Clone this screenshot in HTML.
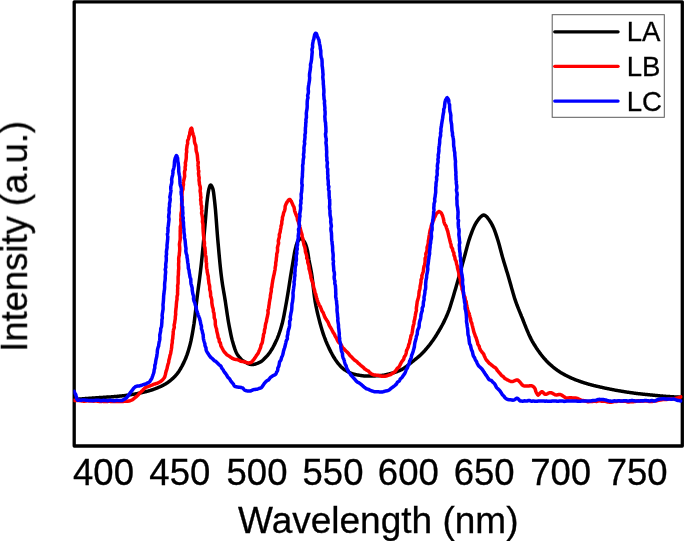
<!DOCTYPE html>
<html>
<head>
<meta charset="utf-8">
<title>Spectrum</title>
<style>
html,body{margin:0;padding:0;background:#fff;}
body{width:685px;height:541px;overflow:hidden;font-family:"Liberation Sans",sans-serif;}
svg{display:block;}
text{font-family:"Liberation Sans",sans-serif;fill:#000;stroke:#000;stroke-width:0.3px;}
.c{fill:none;stroke-width:3.5;stroke-linejoin:round;stroke-linecap:round;}
</style>
</head>
<body>
<svg width="685" height="541" viewBox="0 0 685 541">
<rect x="0" y="0" width="685" height="541" fill="#fff"/>
<defs><filter id="bl" x="-5%" y="-5%" width="110%" height="110%"><feGaussianBlur stdDeviation="0.45"/></filter><clipPath id="cp"><rect x="73.4" y="1.7" width="609.3" height="444.3"/></clipPath></defs>
<rect x="74.2" y="1.85" width="608.1" height="444.15" fill="none" stroke="#000" stroke-width="3.3" stroke-linejoin="round"/>
<g clip-path="url(#cp)">
<path class="c" stroke="#000000" d="M75.0,399.4 L75.5,399.4 L76.0,399.3 L76.5,399.3 L77.0,399.2 L77.5,399.2 L78.0,399.2 L78.5,399.1 L79.0,399.1 L79.5,399.1 L80.0,399.0 L80.5,399.0 L81.0,398.9 L81.5,398.9 L82.0,398.9 L82.5,398.8 L83.0,398.8 L83.5,398.8 L84.0,398.7 L84.5,398.7 L85.0,398.6 L85.5,398.6 L86.0,398.6 L86.5,398.5 L87.0,398.5 L87.5,398.5 L88.0,398.4 L88.5,398.4 L89.0,398.3 L89.5,398.3 L90.0,398.3 L90.5,398.2 L91.0,398.2 L91.5,398.2 L92.0,398.1 L92.5,398.1 L93.0,398.0 L93.5,398.0 L94.0,398.0 L94.5,397.9 L95.0,397.9 L95.5,397.9 L96.0,397.8 L96.5,397.8 L97.0,397.8 L97.5,397.7 L98.0,397.7 L98.5,397.7 L99.0,397.6 L99.5,397.6 L100.0,397.6 L100.5,397.5 L101.0,397.5 L101.5,397.5 L102.0,397.4 L102.5,397.4 L103.0,397.4 L103.5,397.3 L104.0,397.3 L104.5,397.3 L105.0,397.2 L105.5,397.2 L106.0,397.2 L106.5,397.1 L107.0,397.1 L107.5,397.1 L108.0,397.1 L108.5,397.0 L109.0,397.0 L109.5,397.0 L110.0,396.9 L110.5,396.9 L111.0,396.9 L111.5,396.8 L112.0,396.8 L112.5,396.7 L113.0,396.7 L113.5,396.7 L114.0,396.6 L114.5,396.6 L115.0,396.6 L115.5,396.5 L116.0,396.5 L116.5,396.4 L117.0,396.4 L117.5,396.3 L118.0,396.3 L118.5,396.2 L119.0,396.2 L119.5,396.1 L120.0,396.1 L120.5,396.0 L121.0,396.0 L121.5,395.9 L122.0,395.9 L122.5,395.8 L123.0,395.8 L123.5,395.7 L124.0,395.7 L124.5,395.6 L125.0,395.5 L125.5,395.5 L126.0,395.4 L126.5,395.3 L127.0,395.3 L127.5,395.2 L128.0,395.1 L128.5,395.0 L129.0,395.0 L129.5,394.9 L130.0,394.8 L130.5,394.7 L131.0,394.7 L131.5,394.6 L132.0,394.5 L132.5,394.4 L133.0,394.3 L133.5,394.2 L134.0,394.2 L134.5,394.1 L135.0,394.0 L135.5,393.9 L136.0,393.8 L136.5,393.7 L137.0,393.6 L137.5,393.5 L138.0,393.4 L138.5,393.3 L139.0,393.2 L139.5,393.1 L140.0,393.0 L140.5,392.9 L141.0,392.8 L141.5,392.7 L142.0,392.6 L142.5,392.5 L143.0,392.3 L143.5,392.2 L144.0,392.1 L144.5,392.0 L145.0,391.9 L145.5,391.8 L146.0,391.6 L146.5,391.5 L147.0,391.4 L147.5,391.2 L148.0,391.1 L148.5,391.0 L149.0,390.8 L149.5,390.7 L150.0,390.5 L150.5,390.4 L151.0,390.2 L151.5,390.1 L152.0,389.9 L152.5,389.7 L153.0,389.6 L153.5,389.4 L154.0,389.2 L154.5,389.0 L155.0,388.8 L155.5,388.6 L156.0,388.4 L156.5,388.3 L157.0,388.0 L157.5,387.8 L158.0,387.6 L158.5,387.4 L159.0,387.2 L159.5,387.0 L160.0,386.8 L160.5,386.5 L161.0,386.3 L161.5,386.1 L162.0,385.8 L162.5,385.6 L163.0,385.3 L163.5,385.1 L164.0,384.8 L164.5,384.5 L165.0,384.2 L165.5,384.0 L166.0,383.7 L166.5,383.3 L167.0,383.0 L167.5,382.7 L168.0,382.3 L168.5,382.0 L169.0,381.6 L169.5,381.2 L170.0,380.8 L170.5,380.4 L171.0,380.0 L171.5,379.6 L172.0,379.1 L172.5,378.7 L173.0,378.2 L173.5,377.7 L174.0,377.2 L174.5,376.7 L175.0,376.2 L175.5,375.7 L176.0,375.1 L176.5,374.6 L177.0,374.0 L177.5,373.3 L178.0,372.7 L178.5,371.9 L179.0,371.2 L179.5,370.4 L180.0,369.6 L180.5,368.8 L181.0,367.9 L181.5,367.0 L182.0,366.1 L182.5,365.1 L183.0,364.1 L183.5,363.1 L184.0,362.1 L184.5,361.0 L185.0,359.9 L185.5,358.8 L186.0,357.5 L186.5,356.2 L187.0,354.9 L187.5,353.4 L188.0,351.9 L188.5,350.3 L189.0,348.6 L189.5,346.8 L190.0,344.9 L190.5,342.9 L191.0,340.7 L191.5,338.2 L192.0,335.7 L192.5,332.9 L193.0,330.0 L193.5,326.9 L194.0,323.7 L194.5,319.9 L195.0,315.7 L195.5,311.4 L196.0,306.9 L196.5,302.5 L197.0,298.4 L197.5,294.4 L198.0,290.6 L198.5,286.8 L199.0,283.0 L199.5,279.1 L200.0,275.1 L200.5,271.0 L201.0,266.7 L201.5,262.1 L202.0,257.3 L202.5,252.2 L203.0,247.0 L203.5,241.6 L204.0,236.2 L204.5,230.7 L205.0,225.1 L205.5,219.1 L206.0,212.8 L206.5,206.9 L207.0,201.7 L207.5,197.6 L208.0,194.0 L208.5,190.9 L209.0,188.7 L209.5,187.0 L210.0,185.6 L210.5,185.0 L211.0,185.2 L211.5,185.8 L212.0,186.8 L212.5,187.9 L213.0,189.4 L213.5,192.1 L214.0,195.9 L214.5,200.3 L215.0,205.0 L215.5,210.2 L216.0,216.4 L216.5,223.1 L217.0,229.9 L217.5,236.4 L218.0,242.1 L218.5,247.7 L219.0,253.3 L219.5,258.6 L220.0,263.8 L220.5,268.7 L221.0,273.2 L221.5,277.3 L222.0,281.0 L222.5,284.4 L223.0,287.5 L223.5,290.5 L224.0,293.4 L224.5,296.3 L225.0,299.4 L225.5,302.6 L226.0,305.9 L226.5,309.3 L227.0,312.7 L227.5,316.0 L228.0,319.2 L228.5,322.2 L229.0,325.0 L229.5,327.6 L230.0,330.2 L230.5,332.7 L231.0,335.1 L231.5,337.3 L232.0,339.4 L232.5,341.3 L233.0,343.0 L233.5,344.7 L234.0,346.4 L234.5,347.9 L235.0,349.4 L235.5,350.7 L236.0,351.9 L236.5,353.0 L237.0,353.9 L237.5,354.7 L238.0,355.4 L238.5,356.1 L239.0,356.8 L239.5,357.4 L240.0,358.0 L240.5,358.5 L241.0,359.1 L241.5,359.5 L242.0,360.0 L242.5,360.4 L243.0,360.7 L243.5,361.1 L244.0,361.4 L244.5,361.7 L245.0,362.0 L245.5,362.3 L246.0,362.5 L246.5,362.8 L247.0,363.1 L247.5,363.3 L248.0,363.6 L248.5,363.8 L249.0,364.0 L249.5,364.1 L250.0,364.3 L250.5,364.4 L251.0,364.5 L251.5,364.6 L252.0,364.6 L252.5,364.6 L253.0,364.6 L253.5,364.5 L254.0,364.4 L254.5,364.3 L255.0,364.2 L255.5,364.0 L256.0,363.9 L256.5,363.7 L257.0,363.5 L257.5,363.3 L258.0,363.1 L258.5,362.8 L259.0,362.6 L259.5,362.4 L260.0,362.2 L260.5,361.9 L261.0,361.6 L261.5,361.2 L262.0,360.9 L262.5,360.5 L263.0,360.0 L263.5,359.6 L264.0,359.1 L264.5,358.6 L265.0,358.1 L265.5,357.6 L266.0,357.1 L266.5,356.5 L267.0,355.9 L267.5,355.4 L268.0,354.8 L268.5,354.2 L269.0,353.5 L269.5,352.9 L270.0,352.2 L270.5,351.4 L271.0,350.6 L271.5,349.8 L272.0,349.0 L272.5,348.2 L273.0,347.3 L273.5,346.3 L274.0,345.4 L274.5,344.4 L275.0,343.4 L275.5,342.4 L276.0,341.3 L276.5,340.2 L277.0,339.1 L277.5,337.9 L278.0,336.6 L278.5,335.3 L279.0,333.9 L279.5,332.5 L280.0,331.0 L280.5,329.4 L281.0,327.8 L281.5,326.1 L282.0,324.3 L282.5,322.3 L283.0,320.1 L283.5,317.8 L284.0,315.3 L284.5,312.7 L285.0,310.0 L285.5,307.3 L286.0,304.5 L286.5,301.7 L287.0,298.9 L287.5,295.9 L288.0,292.9 L288.5,289.7 L289.0,286.5 L289.5,283.2 L290.0,280.0 L290.5,276.9 L291.0,273.8 L291.5,270.7 L292.0,267.7 L292.5,264.7 L293.0,261.7 L293.5,258.8 L294.0,255.8 L294.5,252.9 L295.0,250.4 L295.5,248.3 L296.0,246.3 L296.5,244.5 L297.0,243.1 L297.5,242.0 L298.0,241.2 L298.5,240.4 L299.0,239.7 L299.5,239.2 L300.0,238.8 L300.5,238.5 L301.0,238.5 L301.5,238.7 L302.0,239.0 L302.5,239.4 L303.0,240.0 L303.5,240.6 L304.0,241.3 L304.5,242.0 L305.0,242.9 L305.5,244.0 L306.0,245.4 L306.5,247.0 L307.0,248.8 L307.5,250.9 L308.0,253.7 L308.5,256.9 L309.0,260.0 L309.5,262.7 L310.0,265.2 L310.5,267.7 L311.0,270.3 L311.5,273.1 L312.0,276.3 L312.5,280.2 L313.0,284.5 L313.5,289.0 L314.0,293.4 L314.5,297.3 L315.0,300.6 L315.5,303.4 L316.0,306.1 L316.5,308.5 L317.0,310.8 L317.5,313.0 L318.0,315.1 L318.5,317.1 L319.0,319.1 L319.5,321.1 L320.0,323.0 L320.5,324.8 L321.0,326.6 L321.5,328.3 L322.0,330.0 L322.5,331.6 L323.0,333.1 L323.5,334.6 L324.0,336.0 L324.5,337.4 L325.0,338.7 L325.5,340.0 L326.0,341.3 L326.5,342.5 L327.0,343.7 L327.5,344.8 L328.0,345.9 L328.5,347.0 L329.0,348.1 L329.5,349.1 L330.0,350.1 L330.5,351.1 L331.0,352.1 L331.5,353.0 L332.0,354.0 L332.5,354.9 L333.0,355.8 L333.5,356.7 L334.0,357.5 L334.5,358.3 L335.0,359.1 L335.5,359.9 L336.0,360.6 L336.5,361.3 L337.0,362.0 L337.5,362.7 L338.0,363.3 L338.5,363.9 L339.0,364.5 L339.5,365.1 L340.0,365.6 L340.5,366.2 L341.0,366.7 L341.5,367.2 L342.0,367.7 L342.5,368.1 L343.0,368.6 L343.5,369.0 L344.0,369.4 L344.5,369.7 L345.0,370.0 L345.5,370.3 L346.0,370.6 L346.5,370.9 L347.0,371.2 L347.5,371.5 L348.0,371.8 L348.5,372.0 L349.0,372.3 L349.5,372.5 L350.0,372.8 L350.5,373.0 L351.0,373.2 L351.5,373.4 L352.0,373.6 L352.5,373.8 L353.0,373.9 L353.5,374.1 L354.0,374.2 L354.5,374.3 L355.0,374.4 L355.5,374.5 L356.0,374.7 L356.5,374.8 L357.0,374.9 L357.5,375.0 L358.0,375.1 L358.5,375.1 L359.0,375.2 L359.5,375.3 L360.0,375.4 L360.5,375.5 L361.0,375.6 L361.5,375.6 L362.0,375.7 L362.5,375.8 L363.0,375.8 L363.5,375.9 L364.0,375.9 L364.5,376.0 L365.0,376.0 L365.5,376.1 L366.0,376.1 L366.5,376.1 L367.0,376.1 L367.5,376.1 L368.0,376.1 L368.5,376.1 L369.0,376.1 L369.5,376.1 L370.0,376.1 L370.5,376.1 L371.0,376.0 L371.5,376.0 L372.0,376.0 L372.5,376.0 L373.0,376.0 L373.5,376.0 L374.0,375.9 L374.5,375.9 L375.0,375.9 L375.5,375.9 L376.0,375.8 L376.5,375.8 L377.0,375.8 L377.5,375.7 L378.0,375.7 L378.5,375.7 L379.0,375.7 L379.5,375.6 L380.0,375.6 L380.5,375.5 L381.0,375.5 L381.5,375.4 L382.0,375.4 L382.5,375.3 L383.0,375.2 L383.5,375.2 L384.0,375.1 L384.5,375.0 L385.0,374.9 L385.5,374.8 L386.0,374.7 L386.5,374.6 L387.0,374.4 L387.5,374.3 L388.0,374.2 L388.5,374.1 L389.0,374.0 L389.5,373.8 L390.0,373.7 L390.5,373.6 L391.0,373.4 L391.5,373.3 L392.0,373.2 L392.5,373.0 L393.0,372.9 L393.5,372.8 L394.0,372.6 L394.5,372.5 L395.0,372.3 L395.5,372.1 L396.0,372.0 L396.5,371.8 L397.0,371.6 L397.5,371.4 L398.0,371.2 L398.5,371.0 L399.0,370.8 L399.5,370.6 L400.0,370.4 L400.5,370.1 L401.0,369.9 L401.5,369.7 L402.0,369.4 L402.5,369.1 L403.0,368.8 L403.5,368.5 L404.0,368.2 L404.5,367.8 L405.0,367.5 L405.5,367.1 L406.0,366.7 L406.5,366.4 L407.0,366.0 L407.5,365.6 L408.0,365.2 L408.5,364.8 L409.0,364.4 L409.5,364.0 L410.0,363.6 L410.5,363.2 L411.0,362.8 L411.5,362.4 L412.0,362.0 L412.5,361.6 L413.0,361.2 L413.5,360.8 L414.0,360.4 L414.5,360.0 L415.0,359.6 L415.5,359.2 L416.0,358.8 L416.5,358.4 L417.0,358.0 L417.5,357.6 L418.0,357.2 L418.5,356.7 L419.0,356.3 L419.5,355.9 L420.0,355.4 L420.5,354.9 L421.0,354.5 L421.5,354.0 L422.0,353.5 L422.5,353.0 L423.0,352.5 L423.5,352.0 L424.0,351.4 L424.5,350.9 L425.0,350.3 L425.5,349.8 L426.0,349.2 L426.5,348.6 L427.0,348.0 L427.5,347.4 L428.0,346.8 L428.5,346.2 L429.0,345.6 L429.5,345.0 L430.0,344.3 L430.5,343.7 L431.0,343.0 L431.5,342.3 L432.0,341.6 L432.5,340.9 L433.0,340.2 L433.5,339.5 L434.0,338.7 L434.5,338.0 L435.0,337.3 L435.5,336.5 L436.0,335.7 L436.5,334.9 L437.0,334.1 L437.5,333.3 L438.0,332.5 L438.5,331.6 L439.0,330.8 L439.5,329.9 L440.0,329.0 L440.5,328.2 L441.0,327.3 L441.5,326.4 L442.0,325.5 L442.5,324.5 L443.0,323.6 L443.5,322.6 L444.0,321.6 L444.5,320.6 L445.0,319.5 L445.5,318.5 L446.0,317.4 L446.5,316.3 L447.0,315.1 L447.5,313.9 L448.0,312.7 L448.5,311.4 L449.0,310.1 L449.5,308.7 L450.0,307.2 L450.5,305.6 L451.0,304.0 L451.5,302.3 L452.0,300.7 L452.5,299.0 L453.0,297.4 L453.5,295.7 L454.0,294.0 L454.5,292.3 L455.0,290.6 L455.5,288.9 L456.0,287.2 L456.5,285.4 L457.0,283.7 L457.5,281.9 L458.0,280.2 L458.5,278.4 L459.0,276.6 L459.5,274.8 L460.0,273.0 L460.5,271.2 L461.0,269.3 L461.5,267.5 L462.0,265.7 L462.5,263.9 L463.0,262.1 L463.5,260.3 L464.0,258.4 L464.5,256.6 L465.0,254.7 L465.5,252.8 L466.0,250.9 L466.5,249.0 L467.0,247.1 L467.5,245.3 L468.0,243.5 L468.5,241.8 L469.0,240.1 L469.5,238.6 L470.0,237.1 L470.5,235.7 L471.0,234.3 L471.5,233.0 L472.0,231.7 L472.5,230.4 L473.0,229.2 L473.5,228.0 L474.0,226.9 L474.5,225.8 L475.0,224.8 L475.5,223.9 L476.0,223.0 L476.5,222.2 L477.0,221.4 L477.5,220.7 L478.0,220.0 L478.5,219.4 L479.0,218.7 L479.5,218.1 L480.0,217.5 L480.5,217.0 L481.0,216.6 L481.5,216.2 L482.0,215.8 L482.5,215.4 L483.0,215.2 L483.5,215.0 L484.0,215.0 L484.5,215.2 L485.0,215.5 L485.5,215.8 L486.0,216.2 L486.5,216.5 L487.0,217.1 L487.5,217.7 L488.0,218.4 L488.5,219.1 L489.0,219.8 L489.5,220.5 L490.0,221.2 L490.5,222.0 L491.0,222.8 L491.5,223.7 L492.0,224.6 L492.5,225.6 L493.0,226.6 L493.5,227.7 L494.0,228.9 L494.5,230.2 L495.0,231.5 L495.5,232.9 L496.0,234.4 L496.5,235.9 L497.0,237.4 L497.5,239.0 L498.0,240.5 L498.5,242.2 L499.0,244.0 L499.5,245.8 L500.0,247.7 L500.5,249.6 L501.0,251.5 L501.5,253.4 L502.0,255.3 L502.5,257.1 L503.0,258.8 L503.5,260.5 L504.0,262.2 L504.5,263.8 L505.0,265.5 L505.5,267.1 L506.0,268.7 L506.5,270.4 L507.0,272.0 L507.5,273.6 L508.0,275.3 L508.5,277.0 L509.0,278.7 L509.5,280.4 L510.0,282.2 L510.5,284.0 L511.0,285.8 L511.5,287.6 L512.0,289.4 L512.5,291.1 L513.0,292.9 L513.5,294.6 L514.0,296.3 L514.5,297.9 L515.0,299.4 L515.5,300.9 L516.0,302.3 L516.5,303.7 L517.0,305.0 L517.5,306.3 L518.0,307.6 L518.5,308.9 L519.0,310.1 L519.5,311.4 L520.0,312.6 L520.5,313.8 L521.0,315.0 L521.5,316.3 L522.0,317.5 L522.5,318.7 L523.0,320.0 L523.5,321.3 L524.0,322.6 L524.5,323.9 L525.0,325.1 L525.5,326.4 L526.0,327.7 L526.5,328.9 L527.0,330.1 L527.5,331.3 L528.0,332.4 L528.5,333.6 L529.0,334.7 L529.5,335.8 L530.0,336.9 L530.5,337.9 L531.0,338.9 L531.5,339.8 L532.0,340.8 L532.5,341.7 L533.0,342.5 L533.5,343.4 L534.0,344.2 L534.5,345.0 L535.0,345.8 L535.5,346.6 L536.0,347.4 L536.5,348.2 L537.0,348.9 L537.5,349.6 L538.0,350.4 L538.5,351.1 L539.0,351.8 L539.5,352.5 L540.0,353.2 L540.5,353.8 L541.0,354.5 L541.5,355.1 L542.0,355.8 L542.5,356.4 L543.0,357.0 L543.5,357.6 L544.0,358.2 L544.5,358.7 L545.0,359.3 L545.5,359.8 L546.0,360.4 L546.5,360.9 L547.0,361.4 L547.5,361.9 L548.0,362.4 L548.5,362.9 L549.0,363.4 L549.5,363.9 L550.0,364.3 L550.5,364.8 L551.0,365.2 L551.5,365.7 L552.0,366.1 L552.5,366.6 L553.0,367.0 L553.5,367.4 L554.0,367.8 L554.5,368.2 L555.0,368.6 L555.5,369.0 L556.0,369.3 L556.5,369.7 L557.0,370.1 L557.5,370.4 L558.0,370.7 L558.5,371.1 L559.0,371.4 L559.5,371.7 L560.0,372.0 L560.5,372.4 L561.0,372.7 L561.5,373.0 L562.0,373.3 L562.5,373.6 L563.0,373.8 L563.5,374.1 L564.0,374.4 L564.5,374.7 L565.0,374.9 L565.5,375.2 L566.0,375.5 L566.5,375.7 L567.0,376.0 L567.5,376.2 L568.0,376.5 L568.5,376.7 L569.0,377.0 L569.5,377.2 L570.0,377.4 L570.5,377.7 L571.0,377.9 L571.5,378.1 L572.0,378.3 L572.5,378.5 L573.0,378.7 L573.5,379.0 L574.0,379.2 L574.5,379.4 L575.0,379.6 L575.5,379.8 L576.0,380.0 L576.5,380.1 L577.0,380.3 L577.5,380.5 L578.0,380.7 L578.5,380.9 L579.0,381.1 L579.5,381.2 L580.0,381.4 L580.5,381.6 L581.0,381.8 L581.5,381.9 L582.0,382.1 L582.5,382.3 L583.0,382.4 L583.5,382.6 L584.0,382.8 L584.5,382.9 L585.0,383.1 L585.5,383.2 L586.0,383.4 L586.5,383.5 L587.0,383.7 L587.5,383.8 L588.0,384.0 L588.5,384.1 L589.0,384.3 L589.5,384.4 L590.0,384.5 L590.5,384.7 L591.0,384.8 L591.5,384.9 L592.0,385.1 L592.5,385.2 L593.0,385.3 L593.5,385.5 L594.0,385.6 L594.5,385.7 L595.0,385.8 L595.5,385.9 L596.0,386.1 L596.5,386.2 L597.0,386.3 L597.5,386.4 L598.0,386.5 L598.5,386.6 L599.0,386.7 L599.5,386.9 L600.0,387.0 L600.5,387.1 L601.0,387.2 L601.5,387.3 L602.0,387.4 L602.5,387.5 L603.0,387.6 L603.5,387.8 L604.0,387.9 L604.5,388.0 L605.0,388.1 L605.5,388.2 L606.0,388.3 L606.5,388.4 L607.0,388.5 L607.5,388.6 L608.0,388.7 L608.5,388.8 L609.0,388.9 L609.5,389.0 L610.0,389.1 L610.5,389.2 L611.0,389.3 L611.5,389.4 L612.0,389.5 L612.5,389.6 L613.0,389.7 L613.5,389.8 L614.0,389.9 L614.5,390.0 L615.0,390.1 L615.5,390.2 L616.0,390.3 L616.5,390.4 L617.0,390.5 L617.5,390.5 L618.0,390.6 L618.5,390.7 L619.0,390.8 L619.5,390.9 L620.0,391.0 L620.5,391.1 L621.0,391.1 L621.5,391.2 L622.0,391.3 L622.5,391.4 L623.0,391.5 L623.5,391.6 L624.0,391.6 L624.5,391.7 L625.0,391.8 L625.5,391.9 L626.0,392.0 L626.5,392.0 L627.0,392.1 L627.5,392.2 L628.0,392.3 L628.5,392.3 L629.0,392.4 L629.5,392.5 L630.0,392.5 L630.5,392.6 L631.0,392.7 L631.5,392.8 L632.0,392.8 L632.5,392.9 L633.0,393.0 L633.5,393.0 L634.0,393.1 L634.5,393.2 L635.0,393.2 L635.5,393.3 L636.0,393.4 L636.5,393.4 L637.0,393.5 L637.5,393.5 L638.0,393.6 L638.5,393.7 L639.0,393.7 L639.5,393.8 L640.0,393.8 L640.5,393.9 L641.0,394.0 L641.5,394.0 L642.0,394.1 L642.5,394.1 L643.0,394.2 L643.5,394.2 L644.0,394.3 L644.5,394.3 L645.0,394.4 L645.5,394.4 L646.0,394.5 L646.5,394.5 L647.0,394.6 L647.5,394.6 L648.0,394.7 L648.5,394.7 L649.0,394.8 L649.5,394.8 L650.0,394.9 L650.5,394.9 L651.0,395.0 L651.5,395.0 L652.0,395.1 L652.5,395.1 L653.0,395.2 L653.5,395.2 L654.0,395.3 L654.5,395.3 L655.0,395.4 L655.5,395.4 L656.0,395.5 L656.5,395.5 L657.0,395.6 L657.5,395.6 L658.0,395.7 L658.5,395.7 L659.0,395.8 L659.5,395.8 L660.0,395.9 L660.5,395.9 L661.0,396.0 L661.5,396.0 L662.0,396.1 L662.5,396.1 L663.0,396.1 L663.5,396.2 L664.0,396.2 L664.5,396.3 L665.0,396.3 L665.5,396.3 L666.0,396.4 L666.5,396.4 L667.0,396.4 L667.5,396.5 L668.0,396.5 L668.5,396.5 L669.0,396.6 L669.5,396.6 L670.0,396.6 L670.5,396.7 L671.0,396.7 L671.5,396.7 L672.0,396.8 L672.5,396.8 L673.0,396.8 L673.5,396.8 L674.0,396.9 L674.5,396.9 L675.0,396.9 L675.5,397.0 L676.0,397.0 L676.5,397.0 L677.0,397.0 L677.5,397.1 L678.0,397.1 L678.5,397.1 L679.0,397.1 L679.5,397.1 L680.0,397.2 L680.5,397.2 L681.0,397.2"/>
<path class="c" stroke="#ff0000" d="M74.0,400.3 L74.6,400.4 L75.2,400.5 L75.8,400.6 L76.4,400.6 L77.0,400.5 L77.6,400.5 L78.2,400.5 L78.8,400.5 L79.4,400.6 L80.0,400.7 L80.6,400.7 L81.2,400.8 L81.8,400.9 L82.4,401.0 L83.0,401.1 L83.6,401.2 L84.2,401.2 L84.8,401.2 L85.4,401.1 L86.0,401.0 L86.6,400.9 L87.2,400.8 L87.8,400.8 L88.4,400.8 L89.0,400.9 L89.6,400.9 L90.2,400.9 L90.8,400.9 L91.4,400.9 L92.0,400.9 L92.6,401.0 L93.2,401.1 L93.8,401.2 L94.4,401.1 L95.0,401.1 L95.6,401.0 L96.2,401.0 L96.8,401.1 L97.4,401.2 L98.0,401.3 L98.6,401.3 L99.2,401.4 L99.8,401.4 L100.4,401.5 L101.0,401.4 L101.6,401.4 L102.2,401.3 L102.8,401.3 L103.4,401.4 L104.0,401.5 L104.6,401.5 L105.2,401.6 L105.8,401.5 L106.4,401.5 L107.0,401.5 L107.6,401.4 L108.2,401.3 L108.8,401.2 L109.4,401.2 L110.0,401.3 L110.6,401.4 L111.2,401.5 L111.8,401.5 L112.4,401.4 L113.0,401.4 L113.6,401.3 L114.2,401.4 L114.8,401.4 L115.4,401.4 L116.0,401.4 L116.6,401.4 L117.2,401.4 L117.8,401.4 L118.4,401.4 L119.0,401.5 L119.6,401.6 L120.2,401.6 L120.8,401.6 L121.4,401.5 L122.0,401.5 L122.6,401.4 L123.2,401.4 L123.8,401.3 L124.4,401.2 L125.0,401.2 L125.6,401.3 L126.2,401.3 L126.8,401.3 L127.4,401.2 L128.0,401.2 L128.6,401.1 L129.2,401.0 L129.8,400.8 L130.3,400.6 L130.9,400.4 L131.5,400.2 L132.0,400.0 L132.5,399.7 L133.0,399.3 L133.4,399.0 L133.9,398.6 L134.3,398.2 L134.8,397.8 L135.3,397.4 L135.8,397.1 L136.3,396.7 L136.7,396.3 L137.1,395.9 L137.6,395.5 L138.0,395.1 L138.4,394.6 L138.8,394.1 L139.1,393.7 L139.5,393.2 L140.0,392.8 L140.4,392.4 L140.9,392.0 L141.3,391.6 L141.8,391.2 L142.2,390.8 L142.6,390.4 L143.0,389.9 L143.4,389.5 L143.8,389.0 L144.3,388.6 L144.7,388.2 L145.2,387.8 L145.6,387.4 L146.2,387.1 L146.8,386.9 L147.4,386.8 L148.0,386.6 L148.5,386.4 L149.1,386.2 L149.6,386.0 L150.2,385.8 L150.8,385.5 L151.3,385.3 L151.9,385.1 L152.4,384.9 L153.0,384.6 L153.5,384.4 L154.1,384.2 L154.7,384.0 L155.3,383.9 L155.8,383.7 L156.4,383.5 L157.0,383.3 L157.5,383.1 L158.1,382.9 L158.6,382.6 L159.2,382.3 L159.7,382.0 L160.2,381.7 L160.7,381.4 L161.1,381.0 L161.6,380.7 L162.0,380.3 L162.5,379.9 L162.9,379.4 L163.3,379.0 L163.7,378.5 L164.1,378.0 L164.4,377.5 L164.7,377.0 L164.9,376.4 L165.0,375.8 L165.2,375.2 L165.3,374.7 L165.5,374.1 L165.6,373.5 L165.7,372.9 L165.9,372.3 L166.0,371.7 L166.2,371.2 L166.4,370.6 L166.6,370.0 L166.7,369.4 L166.9,368.9 L167.1,368.3 L167.2,367.7 L167.3,367.1 L167.4,366.5 L167.6,365.9 L167.7,365.4 L167.9,364.8 L168.0,364.2 L168.2,363.6 L168.4,363.1 L168.6,362.5 L168.7,361.9 L168.8,361.3 L168.8,360.7 L168.9,360.1 L169.1,359.5 L169.3,358.9 L169.4,358.4 L169.6,357.8 L169.7,357.2 L169.8,356.6 L169.9,356.0 L170.0,355.4 L170.2,354.8 L170.4,354.3 L170.6,353.7 L170.7,353.1 L170.8,352.5 L170.9,351.9 L171.0,351.3 L171.1,350.7 L171.2,350.1 L171.3,349.6 L171.4,349.0 L171.5,348.4 L171.6,347.8 L171.7,347.2 L171.7,346.6 L171.7,346.0 L171.8,345.4 L171.8,344.8 L171.9,344.2 L172.1,343.6 L172.2,343.0 L172.3,342.4 L172.3,341.8 L172.3,341.2 L172.3,340.6 L172.4,340.0 L172.5,339.4 L172.7,338.8 L172.8,338.2 L172.8,337.6 L172.8,337.0 L172.9,336.4 L172.9,335.8 L173.0,335.2 L173.1,334.6 L173.2,334.1 L173.2,333.5 L173.2,332.8 L173.2,332.2 L173.2,331.6 L173.3,331.0 L173.4,330.5 L173.5,329.9 L173.7,329.3 L173.9,328.7 L174.1,328.1 L174.3,327.5 L174.3,326.9 L174.2,326.3 L174.1,325.7 L174.1,325.1 L174.3,324.5 L174.4,323.9 L174.6,323.3 L174.7,322.7 L174.8,322.2 L174.8,321.6 L174.9,321.0 L175.0,320.4 L175.1,319.8 L175.2,319.2 L175.3,318.6 L175.3,318.0 L175.3,317.4 L175.3,316.8 L175.4,316.2 L175.5,315.6 L175.6,315.0 L175.7,314.4 L175.7,313.8 L175.6,313.2 L175.6,312.6 L175.6,312.0 L175.7,311.4 L175.7,310.8 L175.8,310.2 L175.9,309.6 L175.9,309.0 L176.0,308.4 L176.1,307.8 L176.2,307.2 L176.2,306.6 L176.3,306.0 L176.3,305.4 L176.3,304.8 L176.4,304.2 L176.4,303.6 L176.5,303.0 L176.5,302.4 L176.6,301.8 L176.6,301.2 L176.8,300.6 L176.9,300.0 L177.0,299.4 L177.1,298.9 L177.0,298.2 L177.0,297.6 L177.0,297.0 L177.1,296.4 L177.2,295.9 L177.4,295.3 L177.6,294.7 L177.6,294.1 L177.6,293.5 L177.6,292.9 L177.5,292.3 L177.6,291.7 L177.6,291.1 L177.6,290.5 L177.6,289.9 L177.6,289.3 L177.7,288.7 L177.8,288.1 L177.7,287.5 L177.7,286.9 L177.6,286.3 L177.6,285.7 L177.7,285.1 L177.9,284.5 L178.0,283.9 L178.1,283.3 L178.1,282.7 L178.1,282.1 L178.1,281.5 L178.1,280.9 L178.1,280.3 L178.1,279.7 L178.1,279.1 L178.1,278.5 L178.1,277.9 L178.1,277.3 L178.1,276.7 L178.2,276.1 L178.3,275.5 L178.4,274.9 L178.4,274.3 L178.4,273.7 L178.4,273.1 L178.4,272.5 L178.4,271.9 L178.5,271.3 L178.5,270.7 L178.5,270.1 L178.6,269.5 L178.7,268.9 L178.7,268.3 L178.7,267.7 L178.7,267.1 L178.7,266.5 L178.6,265.9 L178.6,265.3 L178.6,264.7 L178.6,264.1 L178.6,263.5 L178.7,262.9 L178.7,262.3 L178.8,261.7 L178.8,261.1 L178.7,260.5 L178.7,259.9 L178.7,259.3 L178.7,258.7 L178.7,258.1 L178.8,257.5 L178.9,256.9 L179.0,256.3 L179.1,255.7 L179.3,255.1 L179.3,254.5 L179.3,253.9 L179.4,253.3 L179.4,252.7 L179.5,252.1 L179.6,251.5 L179.6,250.9 L179.7,250.3 L179.7,249.7 L179.7,249.1 L179.7,248.5 L179.7,247.9 L179.7,247.3 L179.6,246.7 L179.6,246.1 L179.5,245.5 L179.5,244.9 L179.4,244.3 L179.5,243.7 L179.6,243.1 L179.7,242.5 L179.8,241.9 L179.9,241.3 L180.0,240.7 L180.1,240.1 L180.2,239.5 L180.2,238.9 L180.2,238.3 L180.3,237.7 L180.2,237.1 L180.2,236.5 L180.2,235.9 L180.2,235.3 L180.2,234.7 L180.2,234.1 L180.2,233.5 L180.3,232.9 L180.2,232.3 L180.2,231.7 L180.2,231.1 L180.2,230.5 L180.3,229.9 L180.3,229.3 L180.3,228.7 L180.3,228.1 L180.3,227.5 L180.3,226.9 L180.4,226.3 L180.6,225.7 L180.8,225.1 L181.0,224.5 L181.0,223.9 L181.0,223.3 L181.0,222.7 L181.0,222.1 L180.9,221.5 L180.8,220.9 L180.8,220.3 L180.7,219.7 L180.8,219.1 L180.9,218.5 L181.0,217.9 L181.0,217.3 L181.0,216.7 L180.9,216.1 L180.9,215.5 L180.9,214.9 L181.0,214.3 L181.0,213.7 L181.1,213.1 L181.2,212.5 L181.4,211.9 L181.5,211.3 L181.6,210.7 L181.6,210.1 L181.6,209.5 L181.6,208.9 L181.6,208.3 L181.6,207.7 L181.6,207.1 L181.6,206.5 L181.6,205.9 L181.6,205.3 L181.6,204.7 L181.6,204.1 L181.7,203.5 L181.8,202.9 L181.9,202.3 L182.0,201.7 L182.1,201.1 L182.2,200.5 L182.2,199.9 L182.2,199.3 L182.1,198.7 L182.0,198.1 L182.0,197.5 L182.0,196.9 L181.9,196.3 L181.9,195.7 L181.9,195.1 L182.0,194.5 L182.0,193.9 L182.1,193.3 L182.1,192.7 L182.1,192.1 L182.2,191.5 L182.3,190.9 L182.6,190.3 L182.8,189.7 L183.0,189.2 L183.0,188.6 L183.0,188.0 L183.0,187.3 L183.0,186.7 L183.1,186.2 L183.3,185.6 L183.4,185.0 L183.5,184.4 L183.4,183.8 L183.4,183.2 L183.3,182.5 L183.4,182.0 L183.5,181.4 L183.7,180.8 L183.8,180.2 L183.9,179.6 L184.1,179.0 L184.2,178.4 L184.4,177.8 L184.5,177.2 L184.6,176.7 L184.7,176.1 L184.6,175.5 L184.6,174.8 L184.5,174.2 L184.5,173.6 L184.5,173.0 L184.5,172.4 L184.5,171.8 L184.6,171.2 L184.8,170.6 L185.0,170.1 L185.3,169.5 L185.2,168.9 L185.1,168.3 L185.1,167.7 L185.1,167.1 L185.2,166.5 L185.4,165.9 L185.5,165.3 L185.5,164.7 L185.4,164.1 L185.4,163.5 L185.3,162.9 L185.5,162.3 L185.6,161.7 L185.8,161.1 L185.9,160.5 L186.0,159.9 L186.1,159.3 L186.2,158.7 L186.2,158.1 L186.3,157.5 L186.3,156.9 L186.3,156.3 L186.3,155.7 L186.3,155.1 L186.3,154.5 L186.3,153.9 L186.4,153.3 L186.5,152.7 L186.7,152.1 L186.7,151.5 L186.6,150.9 L186.6,150.3 L186.5,149.7 L186.6,149.1 L186.7,148.5 L186.8,147.9 L186.9,147.3 L186.9,146.7 L187.0,146.1 L187.1,145.5 L187.2,144.9 L187.4,144.4 L187.6,143.8 L187.7,143.2 L187.6,142.6 L187.6,142.0 L187.6,141.3 L187.6,140.7 L187.9,140.2 L188.1,139.6 L188.4,139.1 L188.6,138.5 L188.7,137.9 L188.8,137.3 L188.9,136.7 L189.1,136.2 L189.3,135.6 L189.5,135.0 L189.7,134.5 L189.7,133.8 L189.8,133.2 L189.8,132.6 L190.0,132.0 L190.1,131.4 L190.2,130.9 L190.3,130.3 L190.5,129.7 L190.7,129.1 L191.0,128.5 L191.5,128.1 L191.9,128.7 L192.0,129.3 L192.0,129.9 L192.1,130.5 L192.3,131.1 L192.4,131.7 L192.5,132.3 L192.7,132.8 L192.9,133.4 L193.1,134.0 L193.2,134.6 L193.4,135.1 L193.6,135.7 L193.7,136.3 L193.9,136.9 L194.0,137.5 L194.2,138.0 L194.3,138.6 L194.3,139.2 L194.3,139.8 L194.4,140.5 L194.4,141.1 L194.5,141.6 L194.6,142.2 L194.7,142.8 L194.9,143.4 L195.2,144.0 L195.4,144.5 L195.7,145.1 L195.8,145.7 L195.9,146.3 L196.0,146.9 L196.0,147.5 L196.0,148.1 L196.0,148.7 L196.0,149.3 L196.1,149.9 L196.2,150.5 L196.3,151.1 L196.4,151.7 L196.6,152.2 L196.8,152.8 L197.0,153.4 L197.1,154.0 L197.2,154.6 L197.3,155.2 L197.4,155.8 L197.4,156.4 L197.5,157.0 L197.5,157.6 L197.6,158.2 L197.6,158.8 L197.7,159.4 L197.7,160.0 L197.8,160.6 L198.0,161.1 L198.1,161.7 L198.3,162.3 L198.2,162.9 L198.1,163.5 L198.0,164.2 L197.9,164.8 L198.0,165.4 L198.1,166.0 L198.2,166.5 L198.3,167.1 L198.3,167.7 L198.3,168.3 L198.3,169.0 L198.4,169.5 L198.5,170.1 L198.7,170.7 L198.8,171.3 L198.7,171.9 L198.6,172.5 L198.5,173.1 L198.5,173.8 L198.6,174.3 L198.7,174.9 L198.7,175.5 L198.8,176.1 L199.0,176.7 L199.1,177.3 L199.2,177.9 L199.1,178.5 L199.1,179.1 L199.0,179.7 L199.0,180.3 L199.1,180.9 L199.2,181.5 L199.3,182.1 L199.4,182.7 L199.4,183.3 L199.4,183.9 L199.5,184.5 L199.7,185.1 L199.9,185.7 L200.1,186.3 L200.2,186.9 L200.3,187.5 L200.3,188.1 L200.4,188.7 L200.3,189.3 L200.2,189.9 L200.1,190.5 L200.1,191.1 L200.2,191.7 L200.3,192.3 L200.5,192.9 L200.5,193.5 L200.6,194.1 L200.6,194.7 L200.6,195.3 L200.6,195.9 L200.8,196.5 L200.9,197.1 L201.0,197.7 L200.8,198.3 L200.7,198.9 L200.6,199.5 L200.6,200.1 L200.8,200.7 L200.9,201.3 L201.0,201.9 L201.0,202.5 L201.0,203.1 L201.0,203.7 L201.0,204.3 L201.2,204.9 L201.4,205.4 L201.6,206.0 L201.6,206.6 L201.6,207.2 L201.6,207.8 L201.5,208.4 L201.6,209.0 L201.7,209.6 L201.9,210.2 L202.0,210.8 L201.8,211.4 L201.7,212.0 L201.6,212.7 L201.6,213.3 L201.7,213.8 L201.9,214.4 L202.0,215.0 L202.1,215.6 L202.2,216.2 L202.3,216.8 L202.4,217.4 L202.5,218.0 L202.5,218.6 L202.6,219.2 L202.6,219.8 L202.5,220.4 L202.5,221.0 L202.4,221.6 L202.5,222.2 L202.7,222.8 L202.8,223.4 L202.9,224.0 L203.0,224.6 L203.0,225.2 L203.0,225.8 L203.0,226.4 L203.0,227.0 L203.0,227.6 L203.0,228.2 L203.1,228.8 L203.1,229.4 L203.1,230.0 L203.2,230.6 L203.2,231.2 L203.2,231.8 L203.3,232.4 L203.3,233.0 L203.4,233.6 L203.4,234.2 L203.5,234.8 L203.5,235.4 L203.6,236.0 L203.7,236.6 L203.8,237.2 L203.8,237.8 L203.8,238.4 L203.8,239.0 L203.9,239.6 L204.1,240.2 L204.2,240.8 L204.3,241.3 L204.4,241.9 L204.4,242.5 L204.5,243.1 L204.5,243.7 L204.4,244.3 L204.4,245.0 L204.3,245.6 L204.4,246.2 L204.6,246.7 L204.8,247.3 L205.0,247.9 L205.0,248.5 L205.1,249.1 L205.1,249.7 L205.1,250.3 L205.2,250.9 L205.3,251.5 L205.3,252.1 L205.3,252.7 L205.4,253.3 L205.4,253.9 L205.4,254.5 L205.5,255.1 L205.7,255.7 L205.8,256.3 L206.0,256.9 L206.0,257.5 L206.1,258.1 L206.1,258.7 L206.2,259.3 L206.1,259.9 L206.1,260.5 L206.1,261.1 L206.2,261.7 L206.3,262.3 L206.5,262.8 L206.6,263.4 L206.5,264.0 L206.5,264.7 L206.5,265.3 L206.5,265.9 L206.5,266.5 L206.6,267.1 L206.6,267.7 L206.7,268.3 L206.8,268.8 L207.0,269.4 L207.1,270.0 L207.1,270.6 L207.2,271.2 L207.2,271.8 L207.3,272.4 L207.5,273.0 L207.6,273.6 L207.7,274.2 L207.9,274.8 L208.0,275.4 L208.2,275.9 L208.3,276.5 L208.3,277.1 L208.3,277.7 L208.3,278.3 L208.4,278.9 L208.5,279.5 L208.6,280.1 L208.7,280.7 L208.7,281.3 L208.8,281.9 L208.8,282.5 L208.9,283.1 L209.0,283.7 L209.2,284.3 L209.4,284.9 L209.5,285.4 L209.6,286.0 L209.7,286.6 L209.7,287.2 L209.7,287.8 L209.7,288.5 L209.7,289.1 L209.7,289.7 L209.9,290.2 L210.1,290.8 L210.3,291.4 L210.4,292.0 L210.5,292.6 L210.5,293.2 L210.6,293.8 L210.6,294.4 L210.6,295.0 L210.6,295.6 L210.6,296.2 L210.8,296.8 L211.1,297.4 L211.3,297.9 L211.4,298.5 L211.6,299.1 L211.7,299.7 L211.8,300.3 L211.8,300.9 L211.8,301.5 L211.8,302.1 L211.8,302.7 L211.9,303.3 L212.0,303.9 L212.1,304.5 L212.2,305.1 L212.3,305.7 L212.4,306.3 L212.5,306.9 L212.7,307.4 L212.9,308.0 L213.1,308.6 L213.2,309.2 L213.3,309.8 L213.3,310.4 L213.3,311.0 L213.4,311.6 L213.6,312.2 L213.8,312.7 L214.0,313.3 L214.0,313.9 L214.1,314.5 L214.1,315.1 L214.2,315.7 L214.2,316.3 L214.2,316.9 L214.2,317.5 L214.4,318.1 L214.6,318.7 L214.8,319.2 L215.1,319.8 L215.2,320.4 L215.2,321.0 L215.3,321.6 L215.3,322.2 L215.3,322.8 L215.3,323.4 L215.3,324.0 L215.3,324.6 L215.5,325.2 L215.6,325.8 L215.7,326.4 L215.9,327.0 L216.1,327.6 L216.3,328.1 L216.5,328.7 L216.6,329.3 L216.6,329.9 L216.7,330.5 L216.8,331.1 L216.9,331.7 L217.1,332.3 L217.2,332.8 L217.4,333.4 L217.5,334.0 L217.7,334.6 L217.8,335.2 L217.9,335.8 L218.0,336.4 L218.0,337.0 L218.2,337.6 L218.5,338.1 L218.8,338.7 L219.1,339.2 L219.1,339.8 L219.2,340.4 L219.2,341.0 L219.3,341.6 L219.7,342.1 L220.0,342.7 L220.4,343.2 L220.5,343.7 L220.6,344.4 L220.7,345.0 L220.8,345.6 L221.0,346.1 L221.3,346.7 L221.6,347.2 L221.9,347.7 L222.2,348.3 L222.5,348.8 L222.8,349.3 L223.1,349.8 L223.3,350.4 L223.6,350.9 L223.9,351.4 L224.3,351.9 L224.7,352.3 L225.1,352.8 L225.5,353.2 L225.9,353.7 L226.3,354.2 L226.7,354.6 L227.1,355.0 L227.7,355.3 L228.2,355.6 L228.8,355.8 L229.2,356.2 L229.7,356.6 L230.2,356.9 L230.7,357.3 L231.2,357.6 L231.7,357.9 L232.2,358.3 L232.8,358.5 L233.3,358.8 L233.9,359.0 L234.4,359.2 L235.0,359.3 L235.7,359.4 L236.3,359.5 L236.9,359.6 L237.4,359.7 L238.0,359.9 L238.6,360.1 L239.1,360.3 L239.7,360.6 L240.2,360.9 L240.7,361.2 L241.3,361.3 L242.0,361.4 L242.6,361.4 L243.2,361.5 L243.7,361.7 L244.3,361.8 L244.9,361.9 L245.5,362.1 L246.0,362.4 L246.6,362.6 L247.2,362.8 L247.8,362.9 L248.4,362.9 L249.0,362.9 L249.6,362.8 L250.2,362.8 L250.8,362.6 L251.3,362.3 L251.8,361.9 L252.2,361.5 L252.6,361.0 L252.9,360.5 L253.3,360.1 L253.7,359.6 L254.1,359.1 L254.4,358.7 L254.8,358.2 L255.1,357.7 L255.5,357.2 L255.8,356.7 L256.1,356.2 L256.4,355.7 L256.7,355.1 L257.1,354.7 L257.5,354.2 L257.9,353.7 L258.2,353.2 L258.4,352.6 L258.6,352.1 L258.8,351.5 L259.1,351.0 L259.3,350.4 L259.6,349.9 L259.8,349.3 L260.0,348.8 L260.3,348.2 L260.5,347.6 L260.7,347.1 L260.8,346.5 L260.9,345.9 L260.9,345.3 L261.2,344.7 L261.5,344.2 L261.8,343.6 L262.1,343.1 L262.2,342.5 L262.4,341.9 L262.5,341.3 L262.6,340.7 L262.7,340.1 L262.8,339.5 L262.8,338.9 L262.9,338.3 L263.1,337.8 L263.2,337.2 L263.4,336.6 L263.4,336.0 L263.4,335.4 L263.5,334.8 L263.6,334.2 L263.8,333.6 L264.1,333.1 L264.3,332.5 L264.4,331.9 L264.4,331.3 L264.4,330.7 L264.5,330.1 L264.6,329.5 L264.8,328.9 L265.0,328.4 L265.2,327.8 L265.2,327.2 L265.2,326.6 L265.3,326.0 L265.4,325.4 L265.5,324.8 L265.6,324.2 L265.7,323.6 L265.9,323.0 L266.1,322.4 L266.3,321.9 L266.5,321.3 L266.5,320.7 L266.6,320.1 L266.7,319.5 L266.8,318.9 L267.0,318.3 L267.1,317.7 L267.2,317.2 L267.4,316.6 L267.5,316.0 L267.6,315.4 L267.7,314.8 L267.9,314.2 L268.0,313.6 L268.1,313.0 L268.1,312.4 L268.1,311.8 L268.0,311.2 L267.9,310.6 L268.1,310.0 L268.3,309.4 L268.5,308.8 L268.6,308.3 L268.7,307.7 L268.8,307.1 L268.8,306.5 L268.9,305.9 L269.0,305.3 L269.1,304.7 L269.2,304.1 L269.3,303.5 L269.3,302.9 L269.4,302.3 L269.5,301.7 L269.6,301.1 L269.7,300.5 L269.8,299.9 L269.9,299.3 L270.0,298.8 L270.2,298.2 L270.3,297.6 L270.4,297.0 L270.4,296.4 L270.4,295.8 L270.4,295.2 L270.6,294.6 L270.7,294.0 L270.8,293.4 L270.9,292.8 L271.1,292.2 L271.2,291.6 L271.3,291.1 L271.3,290.5 L271.3,289.8 L271.3,289.2 L271.3,288.6 L271.5,288.0 L271.7,287.5 L271.9,286.9 L271.9,286.3 L272.0,285.7 L272.0,285.1 L272.1,284.5 L272.2,283.9 L272.3,283.3 L272.4,282.7 L272.5,282.1 L272.6,281.5 L272.7,280.9 L272.7,280.3 L272.9,279.8 L273.0,279.2 L273.1,278.6 L273.3,278.0 L273.4,277.4 L273.5,276.8 L273.6,276.2 L273.7,275.6 L273.9,275.1 L274.0,274.5 L274.2,273.9 L274.3,273.3 L274.4,272.7 L274.5,272.1 L274.6,271.5 L274.7,270.9 L274.9,270.3 L275.0,269.8 L275.1,269.2 L275.1,268.6 L275.1,268.0 L275.2,267.4 L275.3,266.8 L275.4,266.2 L275.6,265.6 L275.7,265.0 L275.7,264.4 L275.7,263.8 L275.7,263.2 L275.7,262.6 L275.9,262.0 L276.0,261.4 L276.2,260.8 L276.2,260.2 L276.3,259.6 L276.3,259.0 L276.3,258.4 L276.4,257.8 L276.5,257.2 L276.6,256.6 L276.7,256.0 L276.7,255.4 L276.7,254.8 L276.7,254.2 L276.8,253.7 L277.0,253.1 L277.2,252.5 L277.4,251.9 L277.5,251.3 L277.5,250.7 L277.6,250.1 L277.6,249.5 L277.5,248.9 L277.5,248.3 L277.4,247.7 L277.6,247.1 L277.7,246.5 L277.9,245.9 L278.0,245.3 L278.2,244.7 L278.4,244.2 L278.5,243.6 L278.6,243.0 L278.5,242.4 L278.4,241.7 L278.3,241.1 L278.4,240.5 L278.5,239.9 L278.7,239.4 L278.8,238.8 L279.0,238.2 L279.2,237.6 L279.3,237.0 L279.4,236.4 L279.4,235.8 L279.3,235.2 L279.3,234.6 L279.5,234.0 L279.7,233.4 L279.9,232.9 L280.1,232.3 L280.2,231.7 L280.3,231.1 L280.3,230.5 L280.4,229.9 L280.6,229.3 L280.7,228.7 L280.8,228.1 L280.9,227.6 L281.0,227.0 L281.0,226.4 L281.1,225.8 L281.3,225.2 L281.5,224.6 L281.7,224.0 L281.8,223.4 L281.8,222.8 L281.8,222.2 L281.8,221.6 L281.9,221.0 L282.1,220.4 L282.2,219.9 L282.4,219.3 L282.4,218.7 L282.4,218.1 L282.4,217.5 L282.6,216.9 L282.8,216.3 L283.0,215.7 L283.2,215.2 L283.3,214.6 L283.4,214.0 L283.5,213.4 L283.7,212.8 L283.9,212.2 L284.1,211.7 L284.4,211.1 L284.6,210.6 L284.7,210.0 L284.9,209.4 L285.0,208.8 L285.1,208.2 L285.1,207.6 L285.1,207.0 L285.2,206.3 L285.3,205.8 L285.6,205.2 L285.8,204.6 L286.0,204.1 L286.3,203.5 L286.6,203.0 L286.9,202.5 L287.2,202.0 L287.5,201.4 L287.9,201.0 L288.2,200.5 L288.7,200.0 L289.1,199.6 L289.6,199.4 L290.0,199.6 L290.4,200.0 L290.7,200.5 L291.1,201.0 L291.4,201.5 L291.6,202.0 L291.9,202.6 L292.1,203.1 L292.3,203.7 L292.6,204.2 L292.8,204.8 L293.0,205.3 L293.3,205.9 L293.6,206.4 L293.9,206.9 L294.1,207.5 L294.2,208.1 L294.3,208.7 L294.4,209.3 L294.5,209.9 L294.6,210.5 L294.7,211.1 L294.9,211.7 L295.1,212.2 L295.3,212.8 L295.5,213.4 L295.7,213.9 L296.0,214.5 L296.2,215.0 L296.4,215.6 L296.7,216.1 L296.9,216.7 L297.1,217.2 L297.3,217.8 L297.3,218.4 L297.4,219.1 L297.4,219.7 L297.6,220.2 L297.9,220.8 L298.1,221.3 L298.4,221.9 L298.5,222.5 L298.6,223.1 L298.8,223.7 L298.9,224.2 L299.2,224.8 L299.4,225.3 L299.7,225.9 L299.8,226.5 L299.9,227.1 L300.1,227.7 L300.2,228.2 L300.3,228.8 L300.5,229.4 L300.6,230.0 L300.8,230.6 L300.9,231.2 L301.1,231.7 L301.2,232.3 L301.4,232.9 L301.6,233.5 L301.8,234.0 L302.0,234.6 L302.1,235.2 L302.1,235.8 L302.1,236.4 L302.2,237.0 L302.5,237.6 L302.7,238.1 L302.9,238.7 L303.0,239.3 L303.1,239.9 L303.1,240.5 L303.2,241.1 L303.3,241.7 L303.5,242.3 L303.6,242.9 L303.7,243.5 L303.8,244.0 L303.9,244.6 L304.1,245.2 L304.3,245.8 L304.5,246.4 L304.7,246.9 L304.9,247.5 L305.0,248.1 L305.1,248.7 L305.2,249.3 L305.3,249.9 L305.4,250.5 L305.4,251.1 L305.4,251.7 L305.6,252.3 L305.8,252.8 L306.0,253.4 L306.2,254.0 L306.4,254.6 L306.5,255.1 L306.7,255.7 L306.8,256.3 L306.8,256.9 L306.8,257.5 L306.7,258.2 L307.0,258.7 L307.3,259.3 L307.6,259.8 L307.8,260.4 L307.8,261.0 L307.7,261.6 L307.7,262.2 L307.8,262.8 L308.1,263.4 L308.3,264.0 L308.5,264.5 L308.7,265.1 L308.8,265.7 L308.9,266.3 L309.0,266.9 L309.0,267.5 L309.0,268.1 L309.0,268.7 L309.2,269.3 L309.4,269.9 L309.6,270.4 L309.8,271.0 L309.9,271.6 L310.0,272.2 L310.1,272.8 L310.2,273.4 L310.4,274.0 L310.6,274.5 L310.7,275.1 L310.8,275.7 L310.9,276.3 L310.9,276.9 L311.0,277.5 L311.1,278.1 L311.3,278.7 L311.5,279.3 L311.6,279.8 L311.8,280.4 L312.0,281.0 L312.2,281.5 L312.4,282.1 L312.6,282.7 L312.9,283.2 L313.1,283.8 L313.2,284.4 L313.3,285.0 L313.4,285.6 L313.5,286.2 L313.6,286.8 L313.7,287.4 L313.9,287.9 L314.0,288.5 L314.2,289.1 L314.4,289.7 L314.6,290.2 L314.7,290.8 L314.8,291.4 L314.9,292.0 L315.1,292.6 L315.3,293.1 L315.5,293.7 L315.8,294.3 L315.9,294.8 L316.0,295.4 L316.2,296.0 L316.3,296.6 L316.4,297.2 L316.6,297.8 L316.8,298.3 L317.0,298.9 L317.2,299.5 L317.3,300.1 L317.5,300.6 L317.7,301.2 L317.9,301.8 L318.1,302.3 L318.3,302.9 L318.6,303.5 L318.8,304.0 L319.0,304.6 L319.3,305.1 L319.6,305.6 L319.9,306.1 L320.2,306.7 L320.5,307.2 L320.7,307.7 L321.0,308.3 L321.2,308.8 L321.4,309.4 L321.6,310.0 L321.8,310.6 L322.1,311.1 L322.4,311.6 L322.8,312.1 L323.1,312.6 L323.4,313.1 L323.6,313.7 L323.8,314.3 L324.0,314.8 L324.2,315.4 L324.4,316.0 L324.6,316.5 L324.9,317.1 L325.1,317.6 L325.4,318.2 L325.7,318.7 L326.0,319.2 L326.4,319.7 L326.7,320.2 L327.0,320.7 L327.3,321.2 L327.7,321.7 L328.0,322.2 L328.3,322.8 L328.5,323.3 L328.7,323.9 L328.9,324.5 L329.2,325.0 L329.4,325.5 L329.7,326.1 L330.0,326.6 L330.3,327.1 L330.6,327.7 L330.9,328.2 L331.2,328.7 L331.5,329.2 L331.8,329.7 L332.1,330.3 L332.4,330.8 L332.6,331.3 L332.9,331.9 L333.1,332.4 L333.5,332.9 L333.8,333.4 L334.2,333.9 L334.5,334.4 L334.7,335.0 L335.0,335.5 L335.2,336.1 L335.5,336.6 L335.8,337.1 L336.2,337.6 L336.5,338.1 L336.7,338.7 L336.9,339.2 L337.2,339.8 L337.4,340.3 L337.7,340.9 L338.0,341.4 L338.3,341.9 L338.7,342.4 L339.2,342.8 L339.6,343.2 L340.1,343.6 L340.5,344.1 L340.9,344.5 L341.2,345.0 L341.6,345.5 L341.8,346.0 L342.1,346.6 L342.4,347.2 L342.7,347.6 L343.2,348.0 L343.6,348.5 L344.1,348.9 L344.4,349.4 L344.8,349.8 L345.2,350.3 L345.6,350.7 L346.0,351.1 L346.5,351.5 L347.0,351.9 L347.4,352.3 L347.8,352.8 L348.2,353.2 L348.6,353.7 L348.9,354.2 L349.3,354.6 L349.7,355.1 L350.0,355.6 L350.5,356.0 L350.9,356.4 L351.4,356.8 L351.8,357.2 L352.2,357.7 L352.6,358.1 L353.0,358.6 L353.4,359.0 L353.9,359.4 L354.3,359.9 L354.8,360.2 L355.3,360.6 L355.8,360.9 L356.3,361.2 L356.7,361.6 L357.2,362.1 L357.6,362.5 L358.0,363.0 L358.4,363.3 L358.9,363.7 L359.4,364.1 L359.8,364.5 L360.3,364.9 L360.7,365.3 L361.2,365.7 L361.6,366.1 L362.1,366.4 L362.6,366.8 L363.1,367.2 L363.5,367.6 L363.9,368.1 L364.3,368.5 L364.7,368.9 L365.3,369.2 L365.8,369.5 L366.3,369.9 L366.8,370.2 L367.3,370.5 L367.9,370.8 L368.4,371.1 L368.8,371.5 L369.2,371.9 L369.6,372.4 L370.1,372.8 L370.6,373.2 L371.0,373.6 L371.5,373.9 L372.1,374.2 L372.6,374.5 L373.2,374.7 L373.8,374.9 L374.4,375.0 L375.0,375.1 L375.6,375.1 L376.2,375.2 L376.8,375.2 L377.4,375.2 L378.0,375.2 L378.6,375.4 L379.2,375.6 L379.8,375.8 L380.3,376.0 L380.9,376.1 L381.5,376.2 L382.1,376.3 L382.7,376.3 L383.3,376.3 L383.9,376.3 L384.6,376.3 L385.2,376.2 L385.8,376.1 L386.3,376.0 L386.9,375.8 L387.5,375.6 L388.1,375.4 L388.6,375.2 L389.2,375.0 L389.8,374.8 L390.3,374.7 L390.9,374.5 L391.4,374.1 L391.9,373.8 L392.4,373.4 L392.8,373.0 L393.4,372.7 L393.9,372.4 L394.4,372.1 L394.9,371.7 L395.3,371.3 L395.6,370.8 L396.0,370.3 L396.3,369.8 L396.6,369.3 L397.0,368.8 L397.3,368.3 L397.8,367.9 L398.3,367.5 L398.8,367.1 L399.2,366.7 L399.4,366.1 L399.7,365.6 L400.0,365.0 L400.3,364.5 L400.6,364.0 L400.8,363.4 L401.1,362.9 L401.4,362.4 L401.7,361.9 L402.0,361.4 L402.4,360.9 L402.8,360.4 L403.2,359.9 L403.6,359.5 L403.8,358.9 L403.9,358.3 L404.0,357.7 L404.2,357.1 L404.5,356.6 L404.9,356.1 L405.2,355.6 L405.5,355.1 L405.7,354.5 L405.9,353.9 L406.1,353.4 L406.2,352.8 L406.3,352.2 L406.4,351.5 L406.5,350.9 L406.7,350.4 L407.0,349.8 L407.2,349.3 L407.5,348.7 L407.7,348.2 L408.0,347.6 L408.2,347.1 L408.4,346.5 L408.5,345.9 L408.6,345.3 L408.7,344.7 L409.0,344.2 L409.2,343.6 L409.5,343.1 L409.6,342.5 L409.7,341.9 L409.8,341.3 L409.8,340.7 L410.0,340.1 L410.2,339.5 L410.4,339.0 L410.6,338.4 L410.7,337.8 L410.7,337.2 L410.8,336.6 L410.9,336.0 L411.2,335.5 L411.5,334.9 L411.7,334.3 L411.9,333.8 L412.0,333.2 L412.1,332.6 L412.3,332.0 L412.4,331.4 L412.4,330.8 L412.5,330.2 L412.6,329.6 L412.7,329.0 L412.8,328.4 L412.9,327.8 L413.0,327.2 L413.1,326.7 L413.2,326.1 L413.4,325.5 L413.5,324.9 L413.7,324.3 L413.9,323.8 L414.0,323.2 L414.0,322.6 L414.0,321.9 L414.1,321.3 L414.2,320.8 L414.4,320.2 L414.6,319.6 L414.8,319.0 L414.8,318.4 L414.9,317.8 L415.0,317.2 L415.1,316.6 L415.2,316.1 L415.3,315.5 L415.4,314.9 L415.5,314.3 L415.6,313.7 L415.7,313.1 L415.8,312.5 L416.0,311.9 L416.2,311.4 L416.4,310.8 L416.4,310.2 L416.4,309.6 L416.4,309.0 L416.3,308.3 L416.4,307.7 L416.5,307.2 L416.6,306.6 L416.7,306.0 L416.8,305.4 L416.8,304.8 L416.9,304.2 L417.0,303.6 L417.1,303.0 L417.1,302.4 L417.2,301.8 L417.3,301.2 L417.5,300.6 L417.7,300.0 L417.9,299.5 L418.0,298.9 L418.2,298.3 L418.4,297.7 L418.5,297.1 L418.6,296.5 L418.7,296.0 L418.9,295.4 L418.9,294.8 L418.9,294.2 L418.9,293.6 L419.0,293.0 L419.1,292.4 L419.1,291.8 L419.2,291.2 L419.4,290.6 L419.6,290.0 L419.7,289.4 L419.9,288.9 L420.0,288.3 L420.0,287.7 L420.1,287.1 L420.1,286.5 L420.2,285.9 L420.3,285.3 L420.5,284.7 L420.6,284.1 L420.7,283.5 L420.8,282.9 L421.0,282.3 L421.0,281.7 L421.0,281.1 L421.0,280.5 L421.0,279.9 L421.3,279.3 L421.5,278.8 L421.8,278.2 L421.9,277.6 L421.9,277.0 L421.9,276.4 L421.8,275.8 L422.0,275.2 L422.2,274.6 L422.4,274.1 L422.6,273.5 L422.8,272.9 L423.0,272.3 L423.2,271.8 L423.4,271.2 L423.4,270.6 L423.5,270.0 L423.5,269.4 L423.6,268.8 L423.7,268.2 L423.8,267.6 L423.9,267.0 L424.0,266.4 L424.2,265.8 L424.4,265.3 L424.6,264.7 L424.7,264.1 L424.8,263.5 L425.0,262.9 L425.0,262.3 L425.1,261.7 L425.1,261.1 L425.1,260.5 L425.1,259.9 L425.1,259.3 L425.1,258.7 L425.2,258.1 L425.5,257.5 L425.7,257.0 L426.0,256.4 L426.0,255.8 L425.9,255.2 L425.8,254.5 L425.8,253.9 L426.0,253.4 L426.3,252.8 L426.5,252.2 L426.7,251.6 L426.8,251.1 L427.0,250.5 L427.1,249.9 L427.1,249.3 L427.1,248.7 L427.0,248.0 L427.1,247.4 L427.2,246.9 L427.4,246.3 L427.6,245.7 L427.8,245.1 L427.9,244.6 L428.1,244.0 L428.2,243.4 L428.3,242.8 L428.3,242.2 L428.3,241.6 L428.3,241.0 L428.4,240.4 L428.6,239.8 L428.7,239.2 L428.8,238.6 L428.9,238.0 L428.9,237.4 L429.0,236.8 L429.1,236.2 L429.2,235.6 L429.3,235.0 L429.4,234.5 L429.5,233.9 L429.6,233.3 L429.7,232.7 L429.8,232.1 L429.9,231.5 L430.0,230.9 L430.1,230.3 L430.3,229.7 L430.5,229.2 L430.7,228.6 L430.9,228.0 L431.0,227.4 L431.1,226.8 L431.2,226.2 L431.3,225.7 L431.5,225.1 L431.7,224.5 L431.9,224.0 L432.1,223.4 L432.3,222.8 L432.5,222.3 L432.7,221.7 L433.0,221.2 L433.3,220.7 L433.6,220.1 L433.8,219.6 L433.9,219.0 L434.1,218.4 L434.2,217.8 L434.5,217.3 L434.9,216.8 L435.2,216.3 L435.5,215.7 L435.7,215.2 L435.9,214.6 L436.1,214.0 L436.5,213.5 L437.0,213.1 L437.4,212.7 L437.9,212.3 L438.3,211.9 L438.8,211.6 L439.3,211.6 L439.8,211.9 L440.3,212.1 L440.8,212.5 L441.2,212.9 L441.5,213.4 L441.8,214.0 L442.0,214.5 L442.3,215.1 L442.5,215.6 L442.7,216.2 L442.9,216.8 L443.1,217.3 L443.2,217.9 L443.4,218.5 L443.5,219.1 L443.6,219.7 L443.7,220.3 L443.8,220.9 L443.9,221.5 L444.0,222.1 L444.2,222.7 L444.4,223.2 L444.6,223.8 L444.9,224.3 L445.2,224.9 L445.6,225.4 L445.9,225.9 L446.1,226.5 L446.3,227.0 L446.4,227.6 L446.6,228.1 L446.8,228.7 L447.0,229.2 L447.1,229.8 L447.4,230.4 L447.6,231.0 L447.8,231.5 L447.9,232.1 L448.0,232.7 L448.2,233.3 L448.3,233.9 L448.4,234.5 L448.6,235.0 L448.7,235.6 L448.8,236.2 L449.0,236.8 L449.1,237.4 L449.3,238.0 L449.4,238.5 L449.6,239.1 L449.7,239.7 L449.8,240.3 L450.0,240.9 L450.1,241.5 L450.3,242.0 L450.4,242.6 L450.6,243.2 L450.8,243.8 L451.0,244.3 L451.1,244.9 L451.1,245.5 L451.2,246.2 L451.2,246.8 L451.6,247.3 L451.9,247.8 L452.3,248.3 L452.6,248.8 L452.6,249.5 L452.7,250.1 L452.8,250.7 L453.0,251.2 L453.3,251.8 L453.6,252.3 L453.9,252.8 L453.9,253.4 L453.9,254.1 L453.9,254.7 L454.0,255.3 L454.3,255.8 L454.5,256.4 L454.8,257.0 L454.9,257.5 L455.0,258.1 L455.0,258.7 L455.1,259.3 L455.4,259.9 L455.7,260.4 L456.0,261.0 L456.2,261.5 L456.3,262.1 L456.4,262.7 L456.5,263.3 L456.6,263.9 L456.8,264.5 L457.0,265.1 L457.2,265.6 L457.3,266.2 L457.4,266.8 L457.4,267.4 L457.5,268.0 L457.7,268.6 L457.8,269.2 L458.0,269.8 L458.1,270.3 L458.3,270.9 L458.5,271.5 L458.6,272.1 L458.7,272.7 L458.8,273.3 L458.9,273.9 L458.9,274.5 L459.0,275.1 L459.1,275.7 L459.2,276.3 L459.4,276.8 L459.7,277.4 L459.9,277.9 L460.2,278.5 L460.3,279.1 L460.3,279.7 L460.3,280.3 L460.4,280.9 L460.5,281.5 L460.6,282.1 L460.7,282.7 L460.8,283.3 L460.9,283.9 L461.1,284.5 L461.2,285.0 L461.4,285.6 L461.6,286.2 L461.8,286.8 L461.9,287.3 L462.0,287.9 L462.0,288.6 L462.0,289.2 L462.2,289.7 L462.5,290.3 L462.7,290.8 L463.0,291.4 L463.1,292.0 L463.1,292.6 L463.2,293.2 L463.3,293.8 L463.6,294.3 L463.8,294.9 L464.1,295.4 L464.3,296.0 L464.6,296.6 L464.8,297.1 L465.1,297.7 L465.1,298.3 L465.2,298.9 L465.2,299.5 L465.3,300.1 L465.6,300.6 L465.9,301.2 L466.2,301.7 L466.3,302.3 L466.3,302.9 L466.4,303.5 L466.4,304.2 L466.6,304.7 L466.7,305.3 L466.9,305.9 L467.1,306.5 L467.2,307.1 L467.3,307.6 L467.3,308.2 L467.5,308.8 L467.6,309.4 L467.8,310.0 L467.9,310.6 L468.2,311.1 L468.4,311.7 L468.6,312.3 L468.8,312.8 L469.0,313.4 L469.2,314.0 L469.4,314.5 L469.5,315.1 L469.7,315.7 L469.8,316.3 L469.9,316.9 L470.1,317.4 L470.3,318.0 L470.5,318.6 L470.7,319.2 L470.7,319.8 L470.7,320.4 L470.8,321.0 L471.0,321.6 L471.2,322.1 L471.5,322.7 L471.8,323.2 L471.9,323.8 L472.0,324.4 L472.2,325.0 L472.3,325.6 L472.5,326.1 L472.6,326.7 L472.8,327.3 L472.9,327.9 L473.1,328.5 L473.2,329.0 L473.3,329.6 L473.5,330.2 L473.6,330.8 L473.7,331.4 L473.9,332.0 L474.1,332.5 L474.3,333.1 L474.5,333.7 L474.7,334.2 L474.9,334.8 L475.1,335.4 L475.2,336.0 L475.5,336.5 L475.8,337.0 L476.0,337.6 L476.2,338.2 L476.4,338.7 L476.5,339.3 L476.7,339.9 L476.9,340.5 L477.1,341.0 L477.3,341.6 L477.5,342.2 L477.6,342.8 L477.7,343.4 L477.8,344.0 L478.0,344.5 L478.4,345.0 L478.7,345.5 L479.1,346.0 L479.3,346.6 L479.4,347.2 L479.5,347.8 L479.7,348.4 L480.0,348.9 L480.2,349.5 L480.5,350.0 L480.8,350.5 L481.2,351.0 L481.6,351.5 L481.9,352.0 L482.3,352.4 L482.7,352.9 L483.1,353.4 L483.5,353.8 L483.7,354.4 L484.0,355.0 L484.2,355.5 L484.4,356.1 L484.7,356.6 L484.9,357.2 L485.2,357.7 L485.4,358.3 L485.7,358.8 L486.0,359.3 L486.3,359.8 L486.6,360.3 L487.0,360.7 L487.5,361.1 L487.8,361.6 L488.2,362.1 L488.6,362.6 L489.0,363.0 L489.4,363.4 L489.9,363.8 L490.4,364.1 L490.9,364.4 L491.4,364.9 L491.8,365.3 L492.3,365.6 L492.7,366.0 L493.2,366.4 L493.7,366.7 L494.2,367.1 L494.7,367.4 L495.2,367.8 L495.7,368.1 L496.1,368.5 L496.5,369.0 L496.8,369.5 L497.0,370.1 L497.4,370.6 L497.8,371.0 L498.2,371.5 L498.6,371.9 L499.0,372.4 L499.4,372.8 L499.8,373.3 L500.2,373.7 L500.5,374.2 L500.9,374.7 L501.2,375.2 L501.7,375.6 L502.2,376.0 L502.7,376.3 L503.2,376.6 L503.6,377.0 L504.0,377.5 L504.4,377.9 L504.9,378.4 L505.4,378.7 L505.9,379.0 L506.4,379.3 L506.9,379.6 L507.5,379.9 L508.0,380.2 L508.6,380.4 L509.1,380.7 L509.6,381.0 L510.1,381.2 L510.7,381.4 L511.3,381.5 L511.9,381.5 L512.5,381.5 L513.1,381.3 L513.7,381.1 L514.2,380.9 L514.8,380.7 L515.3,380.4 L515.9,380.2 L516.5,380.1 L517.1,380.0 L517.7,380.1 L518.2,380.4 L518.7,380.8 L519.1,381.2 L519.5,381.7 L519.9,382.1 L520.3,382.5 L520.7,383.0 L521.1,383.5 L521.4,384.0 L521.8,384.5 L522.2,384.9 L522.7,385.3 L523.2,385.6 L523.7,385.8 L524.3,385.9 L524.9,386.0 L525.5,386.0 L526.1,386.0 L526.7,386.0 L527.3,386.0 L527.9,386.0 L528.5,386.0 L529.1,385.9 L529.7,385.8 L530.3,385.8 L531.0,385.8 L531.6,385.8 L532.2,385.9 L532.7,386.2 L533.3,386.6 L533.7,386.9 L534.1,387.4 L534.5,387.8 L534.8,388.3 L535.1,388.8 L535.3,389.4 L535.4,390.0 L535.6,390.6 L535.7,391.2 L536.0,391.7 L536.2,392.3 L536.5,392.8 L536.8,393.3 L537.1,393.8 L537.4,394.3 L537.7,394.8 L538.0,395.1 L538.4,394.9 L538.9,394.5 L539.3,394.1 L539.7,393.7 L540.0,393.2 L540.4,392.7 L540.9,392.3 L541.3,391.9 L541.9,391.7 L542.5,391.9 L543.0,392.3 L543.4,392.8 L543.8,393.2 L544.2,393.7 L544.7,394.1 L545.3,394.3 L546.0,394.3 L546.6,394.1 L547.1,393.9 L547.7,393.6 L548.2,393.3 L548.8,393.0 L549.3,392.9 L549.9,392.7 L550.4,392.7 L551.0,392.7 L551.6,392.9 L552.1,393.1 L552.7,393.4 L553.2,393.7 L553.7,394.0 L554.2,394.3 L554.7,394.6 L555.2,394.8 L555.7,394.9 L556.3,394.9 L556.9,394.9 L557.5,394.8 L558.1,394.7 L558.7,394.6 L559.3,394.6 L559.9,394.6 L560.5,394.6 L561.1,394.8 L561.6,395.1 L562.1,395.4 L562.6,395.8 L563.1,396.1 L563.6,396.4 L564.1,396.7 L564.6,397.0 L565.1,397.5 L565.6,397.8 L566.2,398.1 L566.8,398.1 L567.4,398.0 L568.0,398.0 L568.6,397.9 L569.2,397.8 L569.8,397.8 L570.4,397.7 L571.0,397.7 L571.6,397.8 L572.2,397.9 L572.8,398.0 L573.4,398.0 L574.0,397.9 L574.6,397.9 L575.2,398.0 L575.8,398.1 L576.4,398.2 L577.0,398.3 L577.5,398.5 L578.1,398.7 L578.7,399.0 L579.2,399.2 L579.8,399.5 L580.3,399.7 L580.9,400.0 L581.4,400.2 L582.0,400.4 L582.6,400.5 L583.2,400.6 L583.8,400.7 L584.4,400.8 L585.0,400.9 L585.6,401.0 L586.1,401.2 L586.7,401.4 L587.3,401.6 L587.9,401.8 L588.5,401.8 L589.1,401.6 L589.7,401.5 L590.3,401.4 L590.9,401.4 L591.5,401.4 L592.1,401.4 L592.7,401.4 L593.3,401.3 L593.9,401.3 L594.5,401.2 L595.1,401.3 L595.7,401.3 L596.3,401.4 L596.9,401.4 L597.5,401.2 L598.1,401.0 L598.7,400.8 L599.3,400.7 L599.9,400.8 L600.5,401.0 L601.1,401.1 L601.7,401.2 L602.3,401.2 L602.9,401.2 L603.5,401.3 L604.1,401.3 L604.7,401.3 L605.3,401.3 L605.9,401.4 L606.5,401.6 L607.0,401.8 L607.6,401.9 L608.2,402.0 L608.8,402.1 L609.4,402.2 L610.0,402.2 L610.6,402.2 L611.2,402.2 L611.8,402.1 L612.4,402.0 L613.0,401.8 L613.6,401.6 L614.2,401.3 L614.8,401.4 L615.4,401.4 L616.0,401.5 L616.6,401.5 L617.2,401.3 L617.8,401.1 L618.4,401.0 L619.0,401.0 L619.6,401.1 L620.2,401.1 L620.8,401.3 L621.4,401.2 L622.0,401.2 L622.6,401.2 L623.2,401.2 L623.8,401.2 L624.4,401.2 L625.0,401.1 L625.6,401.2 L626.2,401.4 L626.7,401.6 L627.3,401.8 L627.9,401.9 L628.5,401.9 L629.1,401.9 L629.7,401.8 L630.3,401.8 L630.9,401.8 L631.5,401.7 L632.1,401.7 L632.7,401.7 L633.3,401.7 L633.9,401.6 L634.5,401.5 L635.1,401.4 L635.7,401.3 L636.3,401.2 L636.9,401.0 L637.5,400.9 L638.1,400.8 L638.7,400.8 L639.3,401.0 L639.9,401.1 L640.5,401.3 L641.1,401.2 L641.7,401.1 L642.3,401.0 L642.9,400.9 L643.5,400.9 L644.1,401.0 L644.7,401.0 L645.3,401.0 L645.9,401.0 L646.5,400.9 L647.1,400.9 L647.7,401.1 L648.3,401.2 L648.9,401.4 L649.5,401.5 L650.1,401.5 L650.7,401.5 L651.3,401.5 L651.9,401.5 L652.5,401.3 L653.1,401.2 L653.7,401.1 L654.3,401.0 L654.9,401.0 L655.5,401.0 L656.1,400.9 L656.7,400.8 L657.3,400.6 L657.8,400.4 L658.4,400.3 L659.0,400.2 L659.6,400.1 L660.2,400.0 L660.8,399.9 L661.4,399.8 L662.0,399.7 L662.6,399.6 L663.2,399.5 L663.8,399.5 L664.4,399.4 L665.0,399.4 L665.6,399.4 L666.2,399.4 L666.8,399.4 L667.4,399.3 L668.0,399.2 L668.6,399.1 L669.2,399.0 L669.8,398.9 L670.4,398.8 L671.0,398.7 L671.6,398.7 L672.2,398.8 L672.8,398.9 L673.4,398.9 L674.0,398.8 L674.6,398.6 L675.1,398.5 L675.7,398.4 L676.3,398.3 L676.9,398.2 L677.5,398.0 L678.1,397.9 L678.6,397.7 L679.2,397.5 L679.8,397.3 L680.4,397.1 L680.9,396.9"/>
<path class="c" stroke="#0000ff" d="M74.0,391.3 L74.3,391.9 L74.6,392.4 L74.8,393.0 L75.0,393.5 L75.4,394.0 L75.7,394.5 L75.9,395.1 L76.1,395.7 L76.2,396.2 L76.4,396.8 L76.5,397.4 L76.6,398.0 L76.7,398.6 L76.9,399.2 L77.2,399.8 L77.8,400.2 L78.5,400.2 L79.1,400.1 L79.7,400.1 L80.3,400.2 L80.9,400.2 L81.5,400.2 L82.1,400.1 L82.7,400.1 L83.3,400.0 L83.9,400.0 L84.5,400.1 L85.1,400.1 L85.7,400.2 L86.3,400.2 L86.9,400.3 L87.5,400.3 L88.1,400.4 L88.7,400.4 L89.3,400.5 L89.9,400.5 L90.5,400.6 L91.1,400.6 L91.7,400.6 L92.3,400.7 L92.9,400.6 L93.5,400.6 L94.1,400.5 L94.7,400.4 L95.3,400.3 L95.9,400.3 L96.5,400.2 L97.1,400.2 L97.7,400.3 L98.3,400.3 L98.9,400.3 L99.5,400.4 L100.1,400.6 L100.7,400.7 L101.3,400.8 L101.9,400.7 L102.5,400.5 L103.1,400.4 L103.7,400.3 L104.3,400.4 L104.9,400.4 L105.5,400.4 L106.1,400.5 L106.7,400.6 L107.3,400.7 L107.9,400.8 L108.5,400.6 L109.1,400.4 L109.7,400.3 L110.3,400.2 L110.9,400.3 L111.5,400.4 L112.1,400.5 L112.7,400.6 L113.3,400.7 L113.9,400.7 L114.5,400.8 L115.1,400.6 L115.7,400.5 L116.3,400.4 L116.9,400.3 L117.5,400.3 L118.1,400.4 L118.7,400.4 L119.3,400.5 L119.9,400.6 L120.5,400.6 L121.1,400.7 L121.7,400.5 L122.3,400.4 L122.8,400.1 L123.3,399.8 L123.8,399.5 L124.4,399.2 L124.9,398.9 L125.4,398.6 L125.9,398.3 L126.4,397.9 L126.8,397.5 L127.2,397.0 L127.6,396.6 L128.0,396.1 L128.3,395.6 L128.7,395.1 L129.0,394.6 L129.3,394.1 L129.7,393.6 L130.0,393.1 L130.4,392.6 L130.7,392.1 L131.1,391.7 L131.5,391.2 L131.9,390.7 L132.2,390.3 L132.6,389.8 L132.9,389.3 L133.2,388.8 L133.6,388.3 L134.0,387.9 L134.5,387.4 L134.9,387.1 L135.4,386.7 L136.0,386.5 L136.6,386.3 L137.1,386.1 L137.7,386.0 L138.3,386.0 L138.9,386.0 L139.5,385.9 L140.1,385.7 L140.7,385.6 L141.3,385.5 L141.9,385.2 L142.4,385.0 L143.0,384.7 L143.5,384.5 L144.1,384.4 L144.7,384.2 L145.3,384.1 L145.8,383.9 L146.4,383.6 L146.9,383.3 L147.4,383.0 L148.0,382.8 L148.5,382.5 L149.0,382.2 L149.5,381.8 L149.9,381.4 L150.2,380.9 L150.5,380.4 L150.9,379.9 L151.2,379.4 L151.5,378.9 L151.8,378.4 L152.0,377.8 L152.2,377.2 L152.4,376.6 L152.6,376.1 L152.8,375.5 L153.0,374.9 L153.2,374.4 L153.4,373.8 L153.6,373.2 L153.8,372.7 L153.9,372.1 L154.0,371.5 L154.1,370.9 L154.1,370.3 L154.2,369.7 L154.4,369.1 L154.6,368.5 L154.8,368.0 L154.8,367.4 L154.8,366.8 L154.8,366.1 L154.8,365.5 L155.0,365.0 L155.2,364.4 L155.4,363.8 L155.5,363.2 L155.6,362.6 L155.6,362.0 L155.7,361.4 L155.8,360.8 L155.9,360.2 L156.0,359.6 L156.1,359.1 L156.3,358.5 L156.4,357.9 L156.6,357.3 L156.7,356.7 L156.8,356.1 L156.9,355.5 L156.9,354.9 L157.0,354.3 L157.1,353.8 L157.2,353.2 L157.3,352.6 L157.3,352.0 L157.3,351.4 L157.4,350.7 L157.4,350.2 L157.5,349.6 L157.7,349.0 L157.8,348.4 L158.0,347.8 L158.2,347.2 L158.4,346.7 L158.6,346.1 L158.7,345.5 L158.7,344.9 L158.8,344.3 L158.9,343.7 L159.0,343.1 L159.1,342.5 L159.2,341.9 L159.4,341.3 L159.5,340.8 L159.6,340.2 L159.8,339.6 L159.8,339.0 L159.8,338.4 L159.9,337.8 L159.9,337.2 L159.8,336.6 L159.8,335.9 L159.8,335.3 L159.8,334.7 L160.0,334.2 L160.1,333.6 L160.2,333.0 L160.4,332.4 L160.5,331.8 L160.6,331.2 L160.7,330.6 L160.7,330.0 L160.7,329.4 L160.7,328.8 L160.9,328.2 L161.1,327.6 L161.3,327.1 L161.5,326.5 L161.6,325.9 L161.6,325.3 L161.7,324.7 L161.7,324.1 L161.8,323.5 L161.8,322.9 L161.9,322.3 L161.9,321.7 L161.9,321.1 L161.9,320.5 L161.9,319.9 L162.0,319.3 L162.2,318.7 L162.3,318.1 L162.3,317.5 L162.3,316.9 L162.2,316.3 L162.1,315.7 L162.2,315.1 L162.2,314.5 L162.3,313.9 L162.4,313.3 L162.5,312.7 L162.6,312.1 L162.7,311.5 L162.8,310.9 L162.9,310.3 L163.0,309.7 L163.1,309.1 L163.1,308.5 L163.1,307.9 L163.1,307.3 L163.1,306.7 L163.1,306.1 L163.0,305.5 L163.0,304.9 L163.0,304.3 L163.1,303.7 L163.2,303.1 L163.3,302.5 L163.3,301.9 L163.4,301.3 L163.4,300.7 L163.5,300.1 L163.5,299.5 L163.5,298.9 L163.6,298.3 L163.6,297.7 L163.6,297.1 L163.6,296.5 L163.7,295.9 L163.7,295.3 L163.8,294.7 L163.9,294.2 L164.0,293.6 L164.0,293.0 L164.1,292.4 L164.1,291.8 L164.2,291.2 L164.3,290.6 L164.4,290.0 L164.5,289.4 L164.5,288.8 L164.6,288.2 L164.6,287.6 L164.7,287.0 L164.6,286.4 L164.6,285.8 L164.6,285.2 L164.6,284.6 L164.6,284.0 L164.7,283.4 L164.7,282.8 L164.8,282.2 L164.9,281.6 L165.0,281.0 L165.1,280.4 L165.1,279.8 L165.2,279.2 L165.2,278.6 L165.3,278.0 L165.2,277.4 L165.2,276.8 L165.2,276.2 L165.3,275.6 L165.3,275.0 L165.4,274.4 L165.5,273.8 L165.5,273.2 L165.6,272.6 L165.7,272.0 L165.6,271.4 L165.5,270.8 L165.4,270.2 L165.2,269.6 L165.4,269.0 L165.5,268.4 L165.7,267.8 L165.9,267.2 L165.8,266.6 L165.8,266.0 L165.7,265.4 L165.7,264.8 L165.7,264.2 L165.8,263.6 L165.9,263.0 L166.0,262.4 L166.1,261.8 L166.2,261.2 L166.3,260.6 L166.3,260.0 L166.3,259.4 L166.3,258.8 L166.3,258.2 L166.3,257.6 L166.2,257.0 L166.1,256.4 L166.2,255.8 L166.3,255.2 L166.5,254.6 L166.6,254.0 L166.5,253.4 L166.4,252.8 L166.4,252.2 L166.4,251.6 L166.5,251.0 L166.6,250.4 L166.6,249.8 L166.8,249.2 L166.9,248.6 L167.0,248.0 L167.1,247.4 L167.1,246.8 L167.0,246.2 L167.0,245.6 L167.0,245.0 L167.1,244.4 L167.2,243.8 L167.2,243.2 L167.3,242.6 L167.4,242.0 L167.4,241.5 L167.5,240.9 L167.5,240.3 L167.6,239.7 L167.7,239.1 L167.7,238.5 L167.7,237.9 L167.8,237.3 L167.8,236.7 L167.7,236.1 L167.6,235.4 L167.5,234.8 L167.4,234.2 L167.5,233.6 L167.7,233.0 L167.8,232.5 L167.9,231.9 L167.9,231.3 L168.0,230.7 L168.0,230.1 L168.0,229.5 L167.9,228.9 L167.9,228.2 L167.9,227.6 L168.0,227.1 L168.1,226.5 L168.3,225.9 L168.4,225.3 L168.4,224.7 L168.5,224.1 L168.5,223.5 L168.6,222.9 L168.7,222.3 L168.8,221.7 L168.8,221.1 L168.9,220.5 L169.0,219.9 L169.0,219.3 L169.0,218.7 L168.9,218.1 L168.7,217.5 L168.6,216.9 L168.7,216.3 L168.7,215.7 L168.8,215.1 L168.8,214.5 L169.0,213.9 L169.1,213.3 L169.2,212.7 L169.2,212.1 L169.2,211.5 L169.1,210.9 L169.0,210.3 L169.1,209.7 L169.1,209.1 L169.2,208.5 L169.2,207.9 L169.3,207.3 L169.5,206.7 L169.6,206.1 L169.6,205.5 L169.5,204.9 L169.5,204.3 L169.5,203.7 L169.6,203.1 L169.8,202.5 L169.9,201.9 L170.0,201.3 L170.1,200.7 L170.2,200.1 L170.2,199.5 L170.2,198.9 L170.1,198.3 L170.0,197.7 L169.8,197.1 L169.9,196.5 L170.1,195.9 L170.2,195.3 L170.3,194.7 L170.4,194.1 L170.5,193.5 L170.6,192.9 L170.7,192.3 L170.8,191.8 L170.9,191.2 L171.0,190.6 L170.9,190.0 L170.8,189.3 L170.8,188.7 L170.7,188.1 L170.8,187.5 L170.8,186.9 L170.8,186.3 L171.0,185.7 L171.1,185.2 L171.3,184.6 L171.5,184.0 L171.6,183.4 L171.7,182.8 L171.8,182.2 L171.8,181.6 L171.8,181.0 L171.7,180.4 L171.6,179.8 L171.7,179.2 L171.8,178.6 L171.9,178.0 L172.0,177.4 L172.2,176.8 L172.3,176.2 L172.5,175.6 L172.6,175.1 L172.7,174.5 L172.8,173.9 L172.9,173.3 L173.0,172.7 L173.0,172.1 L172.9,171.5 L172.9,170.9 L173.1,170.3 L173.3,169.7 L173.5,169.1 L173.7,168.5 L173.8,168.0 L173.9,167.4 L174.1,166.8 L174.2,166.2 L174.2,165.6 L174.3,165.0 L174.3,164.4 L174.4,163.8 L174.4,163.2 L174.4,162.6 L174.5,162.0 L174.5,161.4 L174.6,160.8 L174.7,160.2 L174.9,159.6 L175.0,159.0 L175.2,158.5 L175.4,157.9 L175.6,157.3 L175.8,156.7 L176.1,156.2 L176.3,155.7 L176.4,155.5 L176.8,155.9 L177.1,156.5 L177.3,157.1 L177.5,157.6 L177.6,158.2 L177.7,158.8 L177.7,159.4 L177.7,160.0 L177.8,160.7 L177.8,161.3 L177.9,161.8 L178.1,162.4 L178.2,163.0 L178.3,163.6 L178.3,164.2 L178.4,164.8 L178.4,165.4 L178.5,166.0 L178.6,166.6 L178.7,167.2 L178.7,167.8 L178.7,168.4 L178.7,169.0 L178.7,169.6 L178.7,170.2 L178.7,170.8 L178.7,171.4 L178.8,172.0 L178.9,172.6 L179.0,173.2 L179.1,173.8 L179.2,174.4 L179.4,175.0 L179.5,175.6 L179.6,176.1 L179.7,176.7 L179.7,177.3 L179.8,177.9 L179.8,178.5 L179.8,179.1 L179.9,179.7 L179.9,180.3 L179.9,180.9 L179.9,181.6 L180.0,182.2 L180.0,182.8 L180.0,183.4 L180.1,184.0 L180.2,184.5 L180.3,185.1 L180.5,185.7 L180.7,186.3 L180.9,186.9 L181.1,187.5 L181.2,188.0 L181.3,188.6 L181.4,189.2 L181.4,189.8 L181.3,190.5 L181.2,191.1 L181.1,191.7 L181.1,192.3 L181.2,192.9 L181.2,193.5 L181.2,194.1 L181.4,194.7 L181.5,195.3 L181.6,195.8 L181.7,196.4 L181.7,197.0 L181.7,197.7 L181.6,198.3 L181.6,198.9 L181.7,199.5 L181.7,200.1 L181.7,200.7 L181.8,201.2 L181.9,201.8 L182.0,202.4 L182.0,203.0 L182.0,203.6 L182.0,204.2 L182.0,204.8 L182.1,205.4 L182.3,206.0 L182.5,206.6 L182.7,207.2 L182.7,207.8 L182.6,208.4 L182.6,209.0 L182.6,209.6 L182.7,210.2 L182.7,210.8 L182.7,211.4 L182.8,212.0 L182.9,212.6 L182.9,213.2 L182.9,213.8 L182.8,214.4 L182.7,215.0 L182.6,215.6 L182.7,216.2 L182.9,216.8 L183.1,217.4 L183.3,218.0 L183.2,218.6 L183.1,219.2 L183.0,219.8 L183.0,220.4 L183.2,221.0 L183.3,221.6 L183.5,222.2 L183.5,222.8 L183.5,223.4 L183.5,224.0 L183.5,224.6 L183.5,225.2 L183.6,225.8 L183.6,226.4 L183.7,227.0 L183.7,227.6 L183.8,228.2 L183.9,228.8 L184.0,229.4 L184.0,230.0 L183.9,230.6 L183.9,231.2 L184.0,231.8 L184.0,232.4 L184.1,233.0 L184.2,233.6 L184.3,234.2 L184.4,234.8 L184.5,235.4 L184.5,236.0 L184.5,236.6 L184.4,237.2 L184.4,237.8 L184.6,238.4 L184.8,238.9 L184.9,239.5 L185.1,240.1 L185.1,240.7 L185.2,241.3 L185.2,241.9 L185.3,242.5 L185.3,243.1 L185.4,243.7 L185.4,244.3 L185.5,244.9 L185.5,245.5 L185.6,246.1 L185.7,246.7 L185.8,247.3 L185.9,247.9 L186.0,248.5 L186.0,249.1 L185.9,249.7 L185.9,250.3 L185.8,250.9 L185.9,251.5 L186.0,252.1 L186.1,252.7 L186.2,253.3 L186.4,253.9 L186.6,254.4 L186.8,255.0 L187.0,255.6 L187.0,256.2 L187.0,256.8 L187.0,257.4 L187.2,258.0 L187.3,258.6 L187.4,259.2 L187.5,259.8 L187.5,260.4 L187.6,261.0 L187.6,261.6 L187.7,262.2 L187.8,262.8 L187.9,263.3 L188.1,263.9 L188.1,264.5 L188.2,265.1 L188.2,265.7 L188.3,266.3 L188.3,266.9 L188.3,267.5 L188.3,268.1 L188.5,268.7 L188.7,269.3 L188.9,269.9 L189.1,270.5 L189.1,271.1 L189.2,271.7 L189.2,272.3 L189.3,272.8 L189.4,273.4 L189.5,274.0 L189.7,274.6 L189.8,275.2 L189.8,275.8 L189.9,276.4 L190.0,277.0 L190.2,277.6 L190.5,278.1 L190.7,278.7 L190.8,279.3 L190.8,279.9 L190.8,280.5 L190.8,281.1 L190.8,281.7 L190.9,282.3 L190.9,282.9 L191.0,283.5 L191.1,284.1 L191.3,284.7 L191.5,285.3 L191.6,285.8 L191.8,286.4 L191.9,287.0 L192.1,287.6 L192.2,288.2 L192.2,288.8 L192.2,289.4 L192.2,290.0 L192.3,290.6 L192.4,291.2 L192.5,291.8 L192.6,292.4 L192.7,293.0 L192.8,293.6 L192.9,294.2 L193.1,294.7 L193.3,295.3 L193.5,295.9 L193.7,296.5 L193.6,297.1 L193.6,297.7 L193.5,298.3 L193.5,298.9 L193.7,299.5 L193.8,300.1 L193.9,300.7 L194.1,301.3 L194.4,301.8 L194.6,302.4 L194.8,302.9 L195.0,303.5 L195.1,304.1 L195.2,304.7 L195.4,305.3 L195.6,305.8 L195.9,306.4 L196.2,306.9 L196.3,307.5 L196.3,308.2 L196.3,308.8 L196.3,309.4 L196.5,310.0 L196.7,310.5 L196.9,311.1 L197.1,311.7 L197.3,312.2 L197.5,312.8 L197.7,313.3 L197.9,313.9 L198.1,314.5 L198.2,315.1 L198.4,315.7 L198.7,316.2 L198.9,316.8 L199.2,317.3 L199.4,317.9 L199.6,318.4 L199.7,319.0 L199.8,319.6 L200.0,320.2 L200.2,320.8 L200.3,321.4 L200.5,321.9 L200.5,322.5 L200.6,323.1 L200.7,323.7 L200.8,324.3 L201.0,324.9 L201.2,325.5 L201.4,326.0 L201.5,326.6 L201.5,327.3 L201.4,327.9 L201.4,328.5 L201.6,329.1 L201.8,329.6 L202.0,330.2 L202.2,330.8 L202.3,331.4 L202.4,332.0 L202.5,332.6 L202.7,333.1 L202.9,333.7 L203.0,334.3 L203.2,334.9 L203.2,335.5 L203.2,336.1 L203.2,336.7 L203.3,337.3 L203.4,337.9 L203.4,338.5 L203.5,339.1 L203.7,339.7 L203.8,340.3 L204.0,340.8 L204.1,341.4 L204.3,342.0 L204.5,342.6 L204.7,343.1 L204.9,343.7 L204.9,344.3 L204.9,344.9 L205.0,345.5 L205.2,346.1 L205.4,346.7 L205.7,347.2 L206.0,347.8 L206.0,348.4 L206.0,349.0 L206.1,349.6 L206.2,350.2 L206.4,350.7 L206.7,351.3 L207.0,351.8 L207.3,352.4 L207.6,352.9 L207.9,353.4 L208.3,353.8 L208.6,354.4 L208.9,354.9 L209.2,355.4 L209.6,355.9 L210.0,356.3 L210.3,356.8 L210.7,357.3 L211.2,357.7 L211.7,358.0 L212.1,358.4 L212.6,358.8 L213.0,359.3 L213.4,359.7 L213.8,360.2 L214.2,360.6 L214.8,360.9 L215.3,361.2 L215.8,361.4 L216.3,361.8 L216.7,362.3 L217.1,362.7 L217.5,363.2 L218.0,363.5 L218.4,364.0 L218.8,364.4 L219.2,364.8 L219.7,365.2 L220.2,365.5 L220.7,365.9 L221.0,366.4 L221.3,367.0 L221.5,367.6 L221.8,368.1 L222.2,368.6 L222.5,369.0 L222.9,369.5 L223.3,370.0 L223.5,370.5 L223.8,371.1 L224.1,371.6 L224.4,372.1 L224.8,372.6 L225.2,373.1 L225.6,373.5 L225.9,374.0 L226.3,374.5 L226.6,375.0 L226.9,375.5 L227.2,376.0 L227.5,376.6 L227.8,377.1 L228.2,377.6 L228.6,378.0 L229.1,378.4 L229.6,378.8 L229.9,379.3 L230.1,379.8 L230.4,380.4 L230.7,380.9 L231.1,381.3 L231.5,381.8 L231.9,382.3 L232.3,382.8 L232.6,383.2 L233.0,383.7 L233.4,384.1 L233.7,384.7 L233.9,385.2 L234.2,385.8 L234.7,386.2 L235.2,386.5 L235.8,386.7 L236.4,386.8 L237.0,386.9 L237.6,387.0 L238.2,387.2 L238.8,387.3 L239.4,387.3 L240.0,387.3 L240.6,387.4 L241.2,387.4 L241.7,387.6 L242.3,387.8 L242.8,388.1 L243.2,388.6 L243.6,389.0 L244.0,389.5 L244.4,390.0 L245.0,390.3 L245.5,390.5 L246.1,390.7 L246.7,390.8 L247.2,391.0 L247.8,391.0 L248.3,390.9 L248.9,390.9 L249.5,390.9 L250.1,390.9 L250.7,390.9 L251.3,390.6 L251.8,390.4 L252.4,390.1 L252.9,389.9 L253.5,389.7 L254.1,389.6 L254.7,389.4 L255.3,389.4 L255.9,389.3 L256.5,389.3 L257.1,389.3 L257.7,389.0 L258.2,388.8 L258.8,388.5 L259.4,388.3 L260.0,388.2 L260.6,388.1 L261.1,387.8 L261.6,387.4 L262.0,386.9 L262.4,386.4 L262.7,385.9 L263.1,385.4 L263.4,384.9 L263.7,384.4 L264.0,383.9 L264.4,383.4 L264.7,382.9 L265.1,382.5 L265.6,382.0 L266.0,381.6 L266.4,381.2 L266.9,380.8 L267.4,380.5 L267.9,380.2 L268.5,379.9 L268.9,379.5 L269.3,379.0 L269.6,378.5 L270.0,378.0 L270.4,377.6 L270.9,377.1 L271.3,376.8 L271.8,376.4 L272.4,376.1 L272.9,375.8 L273.4,375.5 L273.9,375.2 L274.5,375.0 L275.0,374.7 L275.5,374.3 L275.9,373.8 L276.2,373.3 L276.4,372.7 L276.6,372.2 L276.9,371.7 L277.3,371.1 L277.5,370.6 L277.7,370.0 L277.8,369.4 L277.8,368.8 L277.8,368.2 L278.0,367.6 L278.3,367.1 L278.6,366.5 L278.9,366.0 L279.0,365.4 L279.1,364.8 L279.2,364.2 L279.3,363.6 L279.4,363.0 L279.5,362.4 L279.6,361.8 L279.9,361.3 L280.3,360.8 L280.7,360.3 L281.0,359.8 L281.1,359.2 L281.3,358.6 L281.4,358.0 L281.6,357.4 L281.8,356.9 L282.1,356.3 L282.4,355.8 L282.6,355.2 L282.7,354.7 L282.9,354.1 L283.0,353.5 L283.2,352.9 L283.3,352.3 L283.4,351.7 L283.5,351.1 L283.7,350.5 L283.9,350.0 L284.0,349.4 L284.2,348.8 L284.4,348.3 L284.6,347.7 L284.8,347.1 L284.9,346.5 L285.1,346.0 L285.2,345.4 L285.4,344.8 L285.5,344.2 L285.6,343.6 L285.8,343.0 L285.9,342.5 L286.0,341.9 L286.2,341.3 L286.3,340.7 L286.6,340.2 L286.9,339.6 L287.2,339.1 L287.4,338.5 L287.3,337.9 L287.3,337.2 L287.2,336.6 L287.3,336.0 L287.5,335.5 L287.7,334.9 L287.9,334.3 L287.9,333.7 L287.9,333.1 L288.0,332.5 L288.0,331.9 L288.2,331.3 L288.3,330.7 L288.4,330.1 L288.6,329.5 L288.8,329.0 L289.0,328.4 L289.2,327.8 L289.3,327.2 L289.4,326.6 L289.5,326.1 L289.6,325.5 L289.6,324.8 L289.6,324.2 L289.6,323.6 L289.6,323.0 L289.6,322.4 L289.6,321.8 L289.6,321.2 L289.9,320.6 L290.2,320.1 L290.4,319.5 L290.5,318.9 L290.4,318.3 L290.3,317.7 L290.2,317.1 L290.3,316.5 L290.5,315.9 L290.6,315.3 L290.7,314.7 L290.8,314.1 L290.9,313.5 L291.0,312.9 L291.2,312.3 L291.3,311.7 L291.4,311.2 L291.6,310.6 L291.6,310.0 L291.7,309.4 L291.8,308.8 L291.8,308.2 L291.8,307.6 L291.9,307.0 L291.9,306.4 L291.9,305.8 L291.9,305.2 L292.0,304.6 L292.0,304.0 L292.1,303.4 L292.3,302.8 L292.4,302.2 L292.6,301.6 L292.6,301.0 L292.7,300.4 L292.8,299.8 L292.8,299.2 L292.9,298.6 L293.0,298.0 L293.0,297.4 L293.1,296.8 L293.1,296.2 L293.1,295.6 L293.1,295.0 L293.1,294.4 L293.0,293.8 L293.0,293.2 L293.0,292.6 L293.1,292.0 L293.2,291.4 L293.3,290.8 L293.4,290.2 L293.4,289.6 L293.5,289.0 L293.6,288.5 L293.7,287.9 L293.7,287.3 L293.8,286.7 L293.9,286.1 L294.0,285.5 L294.1,284.9 L294.2,284.3 L294.2,283.7 L294.1,283.1 L294.1,282.5 L294.0,281.9 L294.2,281.3 L294.3,280.7 L294.4,280.1 L294.5,279.5 L294.5,278.9 L294.5,278.3 L294.5,277.7 L294.6,277.1 L294.7,276.5 L294.9,275.9 L295.0,275.3 L294.9,274.7 L294.9,274.1 L294.8,273.5 L294.8,272.9 L294.9,272.3 L295.0,271.7 L295.1,271.1 L295.1,270.5 L295.1,269.9 L295.1,269.3 L295.1,268.7 L295.2,268.1 L295.2,267.5 L295.3,266.9 L295.4,266.3 L295.6,265.7 L295.8,265.1 L296.0,264.6 L296.0,264.0 L295.9,263.3 L295.9,262.7 L295.8,262.1 L296.0,261.5 L296.2,261.0 L296.3,260.4 L296.4,259.8 L296.4,259.2 L296.4,258.6 L296.3,258.0 L296.3,257.4 L296.3,256.7 L296.2,256.1 L296.2,255.5 L296.4,255.0 L296.6,254.4 L296.8,253.8 L296.9,253.2 L296.8,252.6 L296.7,252.0 L296.6,251.4 L296.7,250.8 L296.9,250.2 L297.1,249.6 L297.3,249.0 L297.2,248.4 L297.1,247.8 L297.0,247.2 L297.0,246.6 L297.2,246.0 L297.4,245.4 L297.6,244.8 L297.6,244.2 L297.5,243.6 L297.5,243.0 L297.4,242.4 L297.5,241.8 L297.6,241.2 L297.7,240.6 L297.8,240.0 L298.0,239.4 L298.1,238.8 L298.3,238.2 L298.3,237.6 L298.3,237.0 L298.2,236.4 L298.2,235.8 L298.3,235.2 L298.4,234.6 L298.5,234.0 L298.5,233.4 L298.6,232.9 L298.7,232.3 L298.7,231.7 L298.7,231.1 L298.6,230.4 L298.5,229.8 L298.5,229.2 L298.7,228.6 L298.9,228.1 L299.1,227.5 L299.2,226.9 L299.3,226.3 L299.3,225.7 L299.4,225.1 L299.3,224.5 L299.2,223.9 L299.1,223.3 L299.1,222.7 L299.2,222.1 L299.3,221.5 L299.4,220.9 L299.5,220.3 L299.5,219.7 L299.5,219.1 L299.5,218.5 L299.6,217.9 L299.7,217.3 L299.9,216.7 L300.0,216.1 L299.9,215.5 L299.8,214.9 L299.7,214.3 L299.7,213.7 L299.9,213.1 L300.0,212.5 L300.1,211.9 L300.2,211.3 L300.3,210.7 L300.4,210.1 L300.5,209.5 L300.6,208.9 L300.6,208.3 L300.6,207.7 L300.6,207.1 L300.5,206.5 L300.4,205.9 L300.4,205.3 L300.5,204.7 L300.7,204.1 L300.9,203.5 L301.0,202.9 L300.9,202.3 L300.9,201.7 L300.8,201.1 L300.8,200.5 L301.0,199.9 L301.1,199.3 L301.3,198.7 L301.3,198.1 L301.3,197.5 L301.2,196.9 L301.2,196.3 L301.2,195.7 L301.2,195.1 L301.1,194.5 L301.2,193.9 L301.3,193.3 L301.5,192.7 L301.6,192.1 L301.7,191.5 L301.7,191.0 L301.8,190.4 L301.8,189.8 L301.8,189.2 L301.9,188.6 L301.9,188.0 L301.9,187.4 L302.0,186.8 L302.1,186.2 L302.2,185.6 L302.1,185.0 L302.0,184.4 L301.9,183.7 L301.8,183.1 L301.8,182.5 L301.9,181.9 L301.9,181.3 L301.9,180.7 L301.9,180.1 L302.0,179.5 L302.0,178.9 L302.1,178.3 L302.2,177.7 L302.3,177.2 L302.4,176.6 L302.4,176.0 L302.4,175.4 L302.4,174.8 L302.4,174.2 L302.4,173.6 L302.5,173.0 L302.5,172.4 L302.5,171.8 L302.6,171.2 L302.6,170.6 L302.7,170.0 L302.7,169.4 L302.7,168.8 L302.7,168.2 L302.7,167.6 L302.7,167.0 L302.6,166.4 L302.6,165.7 L302.7,165.2 L302.8,164.6 L303.0,164.0 L303.1,163.4 L303.1,162.8 L303.1,162.2 L303.1,161.6 L303.1,161.0 L303.2,160.4 L303.2,159.8 L303.3,159.2 L303.4,158.6 L303.6,158.0 L303.7,157.4 L303.8,156.8 L303.7,156.2 L303.6,155.6 L303.5,155.0 L303.5,154.4 L303.6,153.8 L303.7,153.2 L303.9,152.6 L303.9,152.0 L303.9,151.4 L304.0,150.8 L304.0,150.2 L304.0,149.6 L304.0,149.0 L303.9,148.4 L303.9,147.8 L304.0,147.2 L304.1,146.6 L304.2,146.0 L304.3,145.4 L304.4,144.8 L304.6,144.2 L304.7,143.6 L304.6,143.0 L304.5,142.4 L304.4,141.8 L304.4,141.2 L304.6,140.6 L304.7,140.0 L304.8,139.4 L304.8,138.8 L304.9,138.2 L305.0,137.6 L305.0,137.0 L305.0,136.4 L304.9,135.8 L304.9,135.2 L304.9,134.6 L305.1,134.0 L305.3,133.4 L305.4,132.8 L305.4,132.2 L305.4,131.6 L305.4,131.0 L305.3,130.4 L305.4,129.8 L305.4,129.2 L305.4,128.6 L305.4,128.0 L305.5,127.4 L305.6,126.8 L305.7,126.2 L305.7,125.6 L305.7,125.0 L305.7,124.4 L305.7,123.8 L305.8,123.2 L305.9,122.7 L306.0,122.1 L306.0,121.5 L306.0,120.9 L305.9,120.2 L305.9,119.6 L306.0,119.1 L306.2,118.5 L306.3,117.9 L306.5,117.3 L306.4,116.7 L306.4,116.1 L306.4,115.5 L306.4,114.9 L306.3,114.3 L306.3,113.7 L306.3,113.1 L306.4,112.5 L306.5,111.9 L306.6,111.3 L306.6,110.7 L306.8,110.1 L306.9,109.5 L307.0,108.9 L307.1,108.3 L307.1,107.7 L307.2,107.1 L307.2,106.5 L307.2,105.9 L307.2,105.3 L307.2,104.7 L307.1,104.1 L307.2,103.5 L307.2,102.9 L307.2,102.3 L307.2,101.7 L307.3,101.1 L307.3,100.5 L307.4,99.9 L307.5,99.3 L307.7,98.7 L307.9,98.1 L308.0,97.5 L307.8,96.9 L307.7,96.3 L307.6,95.7 L307.7,95.1 L307.9,94.5 L308.1,93.9 L308.3,93.3 L308.3,92.7 L308.4,92.1 L308.4,91.5 L308.4,90.9 L308.3,90.3 L308.3,89.7 L308.2,89.1 L308.2,88.5 L308.3,87.9 L308.4,87.3 L308.4,86.7 L308.5,86.1 L308.6,85.5 L308.7,84.9 L308.8,84.4 L308.9,83.8 L309.0,83.2 L309.1,82.6 L309.2,82.0 L309.3,81.4 L309.4,80.8 L309.5,80.2 L309.5,79.6 L309.6,79.0 L309.6,78.4 L309.7,77.8 L309.6,77.2 L309.5,76.6 L309.5,76.0 L309.5,75.4 L309.5,74.8 L309.5,74.2 L309.6,73.6 L309.7,73.0 L309.8,72.4 L309.9,71.8 L310.0,71.2 L310.1,70.6 L310.2,70.0 L310.3,69.4 L310.3,68.8 L310.4,68.2 L310.5,67.6 L310.6,67.0 L310.6,66.4 L310.5,65.8 L310.5,65.2 L310.5,64.6 L310.6,64.0 L310.8,63.4 L311.0,62.9 L311.1,62.3 L311.2,61.7 L311.3,61.1 L311.4,60.5 L311.5,59.9 L311.6,59.3 L311.6,58.7 L311.7,58.1 L311.7,57.5 L311.8,56.9 L311.8,56.3 L311.9,55.7 L311.9,55.1 L312.0,54.5 L312.0,53.9 L312.1,53.3 L312.2,52.7 L312.2,52.1 L312.2,51.5 L312.1,50.9 L312.0,50.3 L311.9,49.7 L312.0,49.1 L312.2,48.5 L312.4,47.9 L312.6,47.3 L312.6,46.7 L312.6,46.1 L312.5,45.5 L312.5,44.9 L312.6,44.3 L312.7,43.7 L312.8,43.1 L312.9,42.5 L313.0,41.9 L313.1,41.4 L313.2,40.8 L313.4,40.2 L313.6,39.6 L313.8,39.0 L314.0,38.5 L314.0,37.9 L314.1,37.3 L314.2,36.7 L314.4,36.1 L314.5,35.5 L314.6,34.9 L314.8,34.3 L315.1,33.8 L315.4,33.3 L316.0,33.3 L316.5,33.8 L316.7,34.3 L316.9,34.9 L317.0,35.5 L317.2,36.0 L317.5,36.6 L317.7,37.1 L317.9,37.7 L318.2,38.2 L318.4,38.8 L318.7,39.3 L318.9,39.9 L319.0,40.5 L319.1,41.1 L319.2,41.7 L319.3,42.3 L319.4,42.9 L319.5,43.5 L319.6,44.1 L319.7,44.6 L319.9,45.2 L320.0,45.8 L320.1,46.4 L320.2,47.0 L320.2,47.6 L320.2,48.2 L320.3,48.8 L320.5,49.4 L320.6,50.0 L320.8,50.6 L320.8,51.2 L320.8,51.8 L320.8,52.4 L320.8,53.0 L320.8,53.6 L320.8,54.2 L320.8,54.8 L320.9,55.4 L321.0,56.0 L321.1,56.6 L321.1,57.2 L321.3,57.7 L321.6,58.3 L321.8,58.9 L321.9,59.5 L322.0,60.1 L322.0,60.7 L322.0,61.3 L322.1,61.9 L322.1,62.5 L322.1,63.1 L322.1,63.7 L322.1,64.3 L322.1,64.9 L322.1,65.5 L322.2,66.1 L322.3,66.7 L322.4,67.3 L322.5,67.9 L322.5,68.5 L322.6,69.1 L322.7,69.7 L322.7,70.3 L322.8,70.9 L322.8,71.5 L322.8,72.1 L322.9,72.7 L322.9,73.3 L323.0,73.9 L323.1,74.5 L323.0,75.1 L322.9,75.7 L322.9,76.3 L322.8,76.9 L322.8,77.5 L322.9,78.1 L323.0,78.7 L323.0,79.3 L323.1,79.9 L323.2,80.5 L323.3,81.1 L323.3,81.7 L323.3,82.3 L323.3,82.9 L323.3,83.5 L323.3,84.1 L323.4,84.7 L323.5,85.3 L323.5,85.9 L323.6,86.5 L323.6,87.1 L323.6,87.7 L323.7,88.3 L323.8,88.9 L323.8,89.5 L323.9,90.1 L323.9,90.7 L323.9,91.3 L323.9,91.9 L323.9,92.5 L323.8,93.1 L323.8,93.7 L323.7,94.3 L323.7,94.9 L323.8,95.5 L323.9,96.1 L323.9,96.7 L324.0,97.3 L324.0,97.9 L324.0,98.5 L324.1,99.1 L324.2,99.7 L324.4,100.2 L324.6,100.8 L324.6,101.4 L324.5,102.0 L324.5,102.6 L324.4,103.3 L324.5,103.8 L324.6,104.4 L324.6,105.0 L324.7,105.6 L324.7,106.2 L324.8,106.8 L324.9,107.4 L324.9,108.0 L324.9,108.6 L324.8,109.2 L324.8,109.8 L324.9,110.4 L325.0,111.0 L325.1,111.6 L325.1,112.2 L325.1,112.8 L325.1,113.4 L325.1,114.0 L325.1,114.6 L325.0,115.2 L324.9,115.8 L324.8,116.5 L324.9,117.1 L324.9,117.6 L325.0,118.2 L325.0,118.8 L325.0,119.4 L325.1,120.0 L325.1,120.6 L325.2,121.2 L325.3,121.8 L325.5,122.4 L325.6,123.0 L325.6,123.6 L325.6,124.2 L325.6,124.8 L325.7,125.4 L325.7,126.0 L325.8,126.6 L325.8,127.2 L325.9,127.8 L325.9,128.4 L325.9,129.0 L325.9,129.6 L325.9,130.2 L325.9,130.8 L326.0,131.4 L325.9,132.0 L325.8,132.6 L325.7,133.2 L325.5,133.8 L325.5,134.4 L325.6,135.0 L325.6,135.6 L325.6,136.2 L325.8,136.8 L325.9,137.4 L326.1,138.0 L326.2,138.6 L326.2,139.2 L326.2,139.8 L326.3,140.4 L326.2,141.0 L326.1,141.6 L326.0,142.2 L325.9,142.8 L326.0,143.4 L326.1,144.0 L326.2,144.6 L326.3,145.2 L326.3,145.8 L326.4,146.4 L326.5,147.0 L326.5,147.6 L326.5,148.2 L326.5,148.8 L326.5,149.4 L326.6,150.0 L326.6,150.6 L326.7,151.2 L326.7,151.8 L326.7,152.4 L326.7,153.0 L326.6,153.6 L326.6,154.2 L326.6,154.8 L326.6,155.4 L326.6,156.0 L326.7,156.6 L326.8,157.2 L326.9,157.8 L326.9,158.4 L326.9,159.0 L326.8,159.6 L326.8,160.2 L326.9,160.8 L327.1,161.4 L327.3,162.0 L327.4,162.6 L327.4,163.2 L327.3,163.8 L327.2,164.4 L327.2,165.0 L327.1,165.6 L327.1,166.2 L327.1,166.8 L327.2,167.4 L327.4,168.0 L327.6,168.6 L327.8,169.2 L327.7,169.8 L327.7,170.4 L327.7,171.0 L327.6,171.6 L327.7,172.2 L327.7,172.8 L327.7,173.4 L327.7,174.0 L327.8,174.6 L327.9,175.2 L328.0,175.8 L327.9,176.4 L327.8,177.0 L327.8,177.6 L327.8,178.2 L327.9,178.8 L328.0,179.4 L328.1,180.0 L328.2,180.6 L328.2,181.2 L328.3,181.8 L328.3,182.4 L328.3,183.0 L328.2,183.6 L328.2,184.2 L328.2,184.8 L328.4,185.4 L328.6,186.0 L328.9,186.6 L328.8,187.2 L328.7,187.8 L328.6,188.4 L328.5,189.0 L328.6,189.6 L328.8,190.2 L329.0,190.8 L329.1,191.4 L329.1,192.0 L329.1,192.6 L329.1,193.2 L329.1,193.8 L329.1,194.4 L329.1,195.0 L329.1,195.6 L329.2,196.2 L329.2,196.8 L329.3,197.4 L329.3,198.0 L329.4,198.6 L329.6,199.1 L329.7,199.7 L329.7,200.3 L329.7,200.9 L329.7,201.5 L329.7,202.1 L329.7,202.7 L329.7,203.3 L329.8,203.9 L329.7,204.5 L329.7,205.2 L329.6,205.8 L329.5,206.4 L329.5,207.0 L329.6,207.6 L329.6,208.2 L329.7,208.8 L329.8,209.4 L329.9,210.0 L330.0,210.5 L330.0,211.1 L330.0,211.7 L330.0,212.4 L329.9,213.0 L330.0,213.6 L330.0,214.2 L330.1,214.8 L330.1,215.4 L330.2,215.9 L330.4,216.5 L330.5,217.1 L330.6,217.7 L330.7,218.3 L330.8,218.9 L330.9,219.5 L330.9,220.1 L330.8,220.7 L330.7,221.3 L330.7,221.9 L330.8,222.5 L330.9,223.1 L331.0,223.7 L331.1,224.3 L331.2,224.9 L331.3,225.5 L331.4,226.1 L331.3,226.7 L331.1,227.3 L331.0,227.9 L330.9,228.5 L330.9,229.1 L330.9,229.7 L331.0,230.3 L331.0,230.9 L331.2,231.5 L331.3,232.1 L331.4,232.7 L331.5,233.3 L331.5,233.9 L331.5,234.5 L331.5,235.1 L331.6,235.7 L331.6,236.3 L331.6,236.9 L331.6,237.5 L331.6,238.1 L331.6,238.7 L331.6,239.3 L331.7,239.9 L331.8,240.5 L331.9,241.1 L332.1,241.7 L332.1,242.3 L332.1,242.9 L332.1,243.5 L332.2,244.1 L332.3,244.7 L332.4,245.3 L332.5,245.9 L332.5,246.5 L332.6,247.1 L332.6,247.7 L332.6,248.3 L332.6,248.9 L332.6,249.5 L332.6,250.1 L332.6,250.7 L332.7,251.3 L332.8,251.9 L332.9,252.5 L333.0,253.1 L333.1,253.7 L333.1,254.3 L333.2,254.8 L333.2,255.5 L333.2,256.1 L333.1,256.7 L333.1,257.3 L333.1,257.9 L333.0,258.5 L333.0,259.1 L333.1,259.7 L333.2,260.3 L333.4,260.9 L333.5,261.4 L333.4,262.1 L333.3,262.7 L333.3,263.3 L333.2,263.9 L333.3,264.5 L333.4,265.1 L333.5,265.7 L333.5,266.3 L333.6,266.9 L333.6,267.5 L333.7,268.1 L333.7,268.7 L333.7,269.3 L333.7,269.9 L333.7,270.5 L333.9,271.0 L334.1,271.6 L334.3,272.2 L334.4,272.8 L334.4,273.4 L334.4,274.0 L334.5,274.6 L334.4,275.2 L334.3,275.8 L334.2,276.4 L334.1,277.0 L334.2,277.6 L334.2,278.2 L334.3,278.8 L334.4,279.4 L334.6,280.0 L334.8,280.6 L335.0,281.2 L334.9,281.8 L334.8,282.4 L334.8,283.0 L334.8,283.6 L335.0,284.2 L335.2,284.8 L335.4,285.4 L335.4,286.0 L335.5,286.6 L335.5,287.2 L335.5,287.8 L335.6,288.4 L335.6,289.0 L335.7,289.6 L335.7,290.2 L335.7,290.8 L335.7,291.4 L335.7,292.0 L335.7,292.6 L335.8,293.2 L335.8,293.8 L335.8,294.4 L335.8,295.0 L335.7,295.6 L335.7,296.2 L335.7,296.8 L335.8,297.4 L336.0,298.0 L336.1,298.6 L336.2,299.2 L336.3,299.8 L336.4,300.3 L336.5,300.9 L336.6,301.5 L336.6,302.1 L336.6,302.7 L336.6,303.3 L336.7,303.9 L336.8,304.5 L336.9,305.1 L337.0,305.7 L337.0,306.3 L337.1,306.9 L337.1,307.5 L337.1,308.1 L337.0,308.7 L337.0,309.3 L337.0,309.9 L337.0,310.5 L337.1,311.1 L337.1,311.7 L337.2,312.3 L337.3,312.9 L337.4,313.5 L337.5,314.1 L337.5,314.7 L337.5,315.3 L337.6,315.9 L337.6,316.5 L337.7,317.1 L337.8,317.7 L337.9,318.3 L337.9,318.9 L337.8,319.5 L337.8,320.1 L337.8,320.7 L337.9,321.3 L338.0,321.9 L338.1,322.5 L338.2,323.1 L338.3,323.7 L338.4,324.3 L338.5,324.9 L338.5,325.5 L338.5,326.1 L338.5,326.7 L338.5,327.3 L338.6,327.9 L338.7,328.5 L338.8,329.1 L338.9,329.7 L338.9,330.3 L339.0,330.9 L339.0,331.4 L339.1,332.0 L339.2,332.6 L339.3,333.2 L339.3,333.8 L339.3,334.4 L339.2,335.0 L339.2,335.7 L339.2,336.3 L339.4,336.8 L339.5,337.4 L339.7,338.0 L339.7,338.6 L339.6,339.2 L339.6,339.8 L339.6,340.5 L339.8,341.0 L340.0,341.6 L340.1,342.2 L340.3,342.8 L340.4,343.4 L340.6,343.9 L340.7,344.5 L340.8,345.1 L340.8,345.7 L340.7,346.3 L340.8,347.0 L340.9,347.5 L341.0,348.1 L341.1,348.7 L341.2,349.3 L341.3,349.9 L341.4,350.5 L341.5,351.1 L341.7,351.7 L342.0,352.2 L342.2,352.8 L342.5,353.3 L342.5,354.0 L342.5,354.6 L342.5,355.2 L342.6,355.8 L342.7,356.4 L342.9,357.0 L343.0,357.5 L343.2,358.1 L343.5,358.6 L343.8,359.2 L344.0,359.8 L344.2,360.3 L344.3,360.9 L344.5,361.5 L344.6,362.1 L344.8,362.7 L344.9,363.2 L345.1,363.8 L345.3,364.4 L345.6,364.9 L345.9,365.4 L346.2,366.0 L346.3,366.6 L346.4,367.2 L346.6,367.8 L346.8,368.3 L347.1,368.9 L347.4,369.4 L347.7,369.9 L347.9,370.4 L348.2,371.0 L348.5,371.5 L348.8,372.1 L349.1,372.5 L349.5,373.0 L349.9,373.5 L350.3,374.0 L350.6,374.5 L350.9,375.0 L351.3,375.4 L351.7,375.9 L352.1,376.3 L352.5,376.7 L353.0,377.2 L353.3,377.6 L353.7,378.1 L354.1,378.5 L354.5,379.0 L354.9,379.5 L355.3,379.9 L355.7,380.4 L356.1,380.8 L356.5,381.3 L356.9,381.7 L357.4,382.1 L357.9,382.4 L358.5,382.6 L359.1,382.9 L359.6,383.2 L360.0,383.6 L360.5,384.0 L361.0,384.3 L361.4,384.7 L361.9,385.1 L362.4,385.5 L362.8,385.9 L363.3,386.3 L363.7,386.7 L364.1,387.1 L364.6,387.5 L365.1,387.8 L365.6,388.2 L366.1,388.6 L366.6,388.8 L367.2,388.9 L367.8,389.1 L368.4,389.3 L368.9,389.6 L369.4,389.9 L370.0,390.1 L370.5,390.4 L371.1,390.6 L371.6,390.8 L372.2,391.0 L372.8,391.2 L373.3,391.4 L373.9,391.6 L374.5,391.7 L375.1,391.7 L375.7,391.7 L376.4,391.7 L377.0,391.7 L377.5,391.7 L378.1,391.8 L378.7,391.8 L379.3,391.9 L379.9,392.0 L380.5,392.1 L381.1,392.1 L381.7,392.1 L382.3,391.9 L382.9,391.8 L383.4,391.7 L384.0,391.5 L384.6,391.3 L385.2,391.1 L385.8,391.0 L386.4,390.9 L386.9,390.8 L387.5,390.7 L388.1,390.5 L388.7,390.2 L389.2,389.9 L389.7,389.6 L390.1,389.2 L390.6,388.7 L391.0,388.3 L391.5,388.0 L392.0,387.7 L392.5,387.3 L393.0,387.0 L393.5,386.6 L394.0,386.2 L394.4,385.9 L394.9,385.5 L395.3,385.1 L395.8,384.7 L396.2,384.3 L396.6,383.8 L396.9,383.2 L397.2,382.7 L397.5,382.2 L398.0,381.8 L398.5,381.5 L399.1,381.1 L399.4,380.7 L399.7,380.1 L400.0,379.6 L400.2,379.0 L400.7,378.6 L401.1,378.2 L401.6,377.8 L402.0,377.4 L402.4,376.9 L402.7,376.4 L403.0,375.8 L403.4,375.4 L403.8,374.9 L404.1,374.4 L404.5,373.9 L404.8,373.4 L405.0,372.8 L405.3,372.3 L405.5,371.7 L405.7,371.1 L405.9,370.6 L406.0,370.0 L406.3,369.5 L406.7,369.0 L407.0,368.5 L407.4,368.0 L407.6,367.4 L407.8,366.8 L407.9,366.2 L408.1,365.7 L408.4,365.2 L408.7,364.6 L409.1,364.1 L409.2,363.5 L409.3,362.9 L409.4,362.3 L409.4,361.7 L409.7,361.1 L409.9,360.6 L410.2,360.0 L410.4,359.5 L410.7,358.9 L410.9,358.4 L411.2,357.8 L411.3,357.3 L411.4,356.7 L411.5,356.1 L411.6,355.5 L411.8,354.9 L412.1,354.3 L412.3,353.8 L412.5,353.2 L412.7,352.7 L412.9,352.1 L413.1,351.5 L413.2,350.9 L413.4,350.4 L413.5,349.8 L413.7,349.2 L413.9,348.6 L414.0,348.0 L414.2,347.5 L414.4,346.9 L414.4,346.3 L414.5,345.7 L414.5,345.1 L414.6,344.5 L414.7,343.9 L414.8,343.3 L414.9,342.7 L415.0,342.1 L415.2,341.5 L415.4,341.0 L415.5,340.4 L415.7,339.8 L415.9,339.2 L416.0,338.6 L416.1,338.1 L416.2,337.5 L416.3,336.9 L416.4,336.3 L416.6,335.7 L416.8,335.1 L417.1,334.6 L417.3,334.0 L417.3,333.4 L417.3,332.8 L417.3,332.2 L417.4,331.6 L417.5,331.0 L417.6,330.4 L417.8,329.8 L418.0,329.3 L418.3,328.7 L418.6,328.1 L418.9,327.6 L419.0,327.0 L419.1,326.4 L419.2,325.8 L419.2,325.2 L419.2,324.6 L419.2,324.0 L419.3,323.4 L419.4,322.8 L419.5,322.2 L419.6,321.6 L419.8,321.0 L420.0,320.5 L420.2,319.9 L420.4,319.3 L420.6,318.7 L420.6,318.1 L420.7,317.6 L420.8,317.0 L420.9,316.4 L420.9,315.8 L421.0,315.1 L421.0,314.6 L421.2,314.0 L421.3,313.4 L421.5,312.8 L421.7,312.2 L421.9,311.7 L422.1,311.1 L422.3,310.5 L422.2,309.9 L422.2,309.3 L422.2,308.7 L422.2,308.1 L422.5,307.5 L422.8,306.9 L423.1,306.4 L423.2,305.8 L423.3,305.2 L423.3,304.6 L423.3,304.0 L423.3,303.4 L423.4,302.8 L423.4,302.2 L423.5,301.6 L423.7,301.0 L423.9,300.4 L424.1,299.9 L424.1,299.3 L424.1,298.6 L424.0,298.0 L424.0,297.4 L424.1,296.8 L424.2,296.2 L424.4,295.7 L424.5,295.1 L424.6,294.5 L424.7,293.9 L424.8,293.3 L424.9,292.7 L424.9,292.1 L424.9,291.5 L424.9,290.9 L425.1,290.3 L425.3,289.7 L425.5,289.1 L425.6,288.5 L425.6,287.9 L425.7,287.3 L425.7,286.7 L425.7,286.1 L425.7,285.5 L425.6,284.9 L425.6,284.3 L425.7,283.7 L425.7,283.1 L425.8,282.5 L425.8,281.9 L425.9,281.3 L425.9,280.7 L426.0,280.1 L426.1,279.5 L426.3,279.0 L426.4,278.4 L426.6,277.8 L426.6,277.2 L426.6,276.6 L426.6,276.0 L426.6,275.4 L426.8,274.8 L426.9,274.2 L427.0,273.6 L427.2,273.0 L427.3,272.4 L427.4,271.8 L427.5,271.2 L427.6,270.7 L427.7,270.1 L427.8,269.5 L427.8,268.9 L427.8,268.3 L427.7,267.6 L427.6,267.0 L427.7,266.4 L427.8,265.8 L427.9,265.2 L428.0,264.7 L428.1,264.1 L428.2,263.5 L428.3,262.9 L428.3,262.3 L428.4,261.7 L428.5,261.1 L428.5,260.5 L428.6,259.9 L428.7,259.3 L428.8,258.7 L428.9,258.1 L428.9,257.5 L429.0,256.9 L429.1,256.3 L429.2,255.7 L429.3,255.1 L429.4,254.5 L429.6,254.0 L429.6,253.4 L429.6,252.8 L429.6,252.1 L429.5,251.5 L429.6,250.9 L429.7,250.3 L429.8,249.8 L429.8,249.2 L429.9,248.6 L430.0,248.0 L430.1,247.4 L430.1,246.8 L430.1,246.2 L430.1,245.6 L430.1,245.0 L430.3,244.4 L430.4,243.8 L430.6,243.2 L430.7,242.6 L430.7,242.0 L430.7,241.4 L430.8,240.8 L430.9,240.2 L431.0,239.6 L431.2,239.0 L431.3,238.4 L431.4,237.9 L431.4,237.3 L431.5,236.7 L431.5,236.1 L431.4,235.4 L431.4,234.8 L431.3,234.2 L431.3,233.6 L431.4,233.0 L431.4,232.4 L431.5,231.8 L431.6,231.2 L431.8,230.7 L432.0,230.1 L432.1,229.5 L432.1,228.9 L432.1,228.3 L432.1,227.7 L432.1,227.1 L432.0,226.5 L432.0,225.8 L431.9,225.2 L432.1,224.7 L432.3,224.1 L432.4,223.5 L432.6,222.9 L432.6,222.3 L432.6,221.7 L432.6,221.1 L432.7,220.5 L432.8,219.9 L432.9,219.3 L433.1,218.7 L433.1,218.1 L433.2,217.5 L433.2,216.9 L433.3,216.3 L433.4,215.7 L433.5,215.1 L433.5,214.5 L433.6,213.9 L433.6,213.3 L433.6,212.7 L433.6,212.1 L433.7,211.5 L433.8,211.0 L433.9,210.4 L434.0,209.8 L433.9,209.1 L433.8,208.5 L433.8,207.9 L433.8,207.3 L433.9,206.7 L434.0,206.1 L434.0,205.5 L434.0,204.9 L434.0,204.3 L434.1,203.7 L434.1,203.1 L434.4,202.6 L434.6,202.0 L434.8,201.4 L434.8,200.8 L434.7,200.2 L434.7,199.6 L434.6,199.0 L434.7,198.4 L434.9,197.8 L435.0,197.2 L435.1,196.6 L435.2,196.0 L435.2,195.4 L435.3,194.8 L435.4,194.2 L435.5,193.6 L435.6,193.0 L435.7,192.4 L435.7,191.8 L435.7,191.2 L435.7,190.6 L435.7,190.0 L435.7,189.4 L435.7,188.8 L435.7,188.2 L435.7,187.6 L435.8,187.0 L435.9,186.4 L436.0,185.8 L436.0,185.2 L436.0,184.6 L436.0,184.0 L436.0,183.4 L436.1,182.8 L436.2,182.2 L436.3,181.6 L436.4,181.1 L436.5,180.5 L436.6,179.9 L436.7,179.3 L436.7,178.7 L436.6,178.1 L436.5,177.5 L436.6,176.9 L436.8,176.3 L437.0,175.7 L437.2,175.1 L437.2,174.5 L437.2,173.9 L437.2,173.3 L437.1,172.7 L437.1,172.1 L437.1,171.5 L437.1,170.9 L437.1,170.3 L437.3,169.7 L437.4,169.1 L437.6,168.5 L437.6,167.9 L437.5,167.3 L437.4,166.7 L437.3,166.1 L437.4,165.5 L437.5,164.9 L437.5,164.3 L437.6,163.7 L437.8,163.1 L438.0,162.5 L438.1,161.9 L438.1,161.3 L438.1,160.7 L438.0,160.1 L437.9,159.5 L438.0,158.9 L438.2,158.3 L438.3,157.7 L438.4,157.1 L438.3,156.5 L438.2,155.9 L438.2,155.3 L438.2,154.7 L438.4,154.1 L438.5,153.5 L438.7,152.9 L438.7,152.3 L438.8,151.7 L438.9,151.1 L438.9,150.5 L438.9,149.9 L438.9,149.3 L438.8,148.7 L438.9,148.1 L439.0,147.5 L439.0,146.9 L439.1,146.3 L439.2,145.8 L439.3,145.2 L439.4,144.6 L439.5,144.0 L439.6,143.4 L439.6,142.8 L439.7,142.2 L439.7,141.6 L439.7,141.0 L439.7,140.4 L439.7,139.8 L439.8,139.2 L439.9,138.6 L440.0,138.0 L440.1,137.4 L440.3,136.8 L440.5,136.2 L440.6,135.6 L440.6,135.0 L440.6,134.4 L440.5,133.8 L440.5,133.2 L440.6,132.6 L440.8,132.0 L440.9,131.4 L441.0,130.8 L440.9,130.2 L440.9,129.6 L440.9,129.0 L440.9,128.4 L441.1,127.8 L441.2,127.2 L441.3,126.7 L441.4,126.1 L441.5,125.5 L441.5,124.9 L441.6,124.3 L441.7,123.7 L441.8,123.1 L441.9,122.5 L442.0,121.9 L442.1,121.3 L442.2,120.7 L442.3,120.1 L442.4,119.5 L442.5,118.9 L442.6,118.4 L442.7,117.8 L442.8,117.2 L442.8,116.6 L442.9,116.0 L443.0,115.4 L443.1,114.8 L443.2,114.2 L443.3,113.6 L443.4,113.0 L443.6,112.4 L443.7,111.8 L443.7,111.2 L443.7,110.6 L443.7,110.0 L443.7,109.4 L443.9,108.8 L444.1,108.3 L444.3,107.7 L444.5,107.1 L444.5,106.5 L444.6,105.9 L444.6,105.3 L444.7,104.7 L444.8,104.1 L444.8,103.5 L444.9,102.9 L445.0,102.3 L445.1,101.7 L445.2,101.1 L445.4,100.6 L445.6,100.0 L445.9,99.5 L446.3,99.0 L446.6,98.4 L446.8,98.0 L447.2,97.7 L447.5,98.1 L447.8,98.6 L448.2,99.1 L448.5,99.6 L448.7,100.2 L448.8,100.8 L448.8,101.4 L448.8,102.0 L448.9,102.6 L449.1,103.2 L449.3,103.8 L449.5,104.3 L449.6,104.9 L449.6,105.5 L449.6,106.1 L449.6,106.7 L449.6,107.3 L449.7,107.9 L449.7,108.5 L449.7,109.1 L449.8,109.7 L449.9,110.3 L449.9,110.9 L450.0,111.5 L450.2,112.1 L450.4,112.7 L450.5,113.3 L450.6,113.9 L450.7,114.5 L450.8,115.1 L450.9,115.7 L450.8,116.3 L450.8,116.9 L450.8,117.5 L450.8,118.1 L450.8,118.7 L450.8,119.3 L450.8,119.9 L450.9,120.5 L451.0,121.1 L451.1,121.7 L451.2,122.3 L451.3,122.9 L451.4,123.5 L451.6,124.0 L451.6,124.6 L451.7,125.2 L451.7,125.8 L451.7,126.4 L451.8,127.0 L451.8,127.6 L451.8,128.2 L451.9,128.8 L451.9,129.4 L451.9,130.0 L452.0,130.6 L452.1,131.2 L452.2,131.8 L452.4,132.4 L452.5,133.0 L452.5,133.6 L452.5,134.2 L452.5,134.8 L452.5,135.4 L452.7,136.0 L452.9,136.6 L453.1,137.2 L453.2,137.8 L453.3,138.3 L453.3,138.9 L453.4,139.5 L453.5,140.1 L453.5,140.7 L453.6,141.3 L453.6,141.9 L453.6,142.5 L453.6,143.1 L453.6,143.7 L453.6,144.4 L453.6,144.9 L453.7,145.5 L453.7,146.1 L453.8,146.7 L454.0,147.3 L454.1,147.9 L454.2,148.5 L454.2,149.1 L454.2,149.7 L454.2,150.3 L454.4,150.9 L454.5,151.5 L454.7,152.1 L454.8,152.7 L454.8,153.3 L454.8,153.9 L454.8,154.5 L454.8,155.1 L454.9,155.7 L454.9,156.3 L455.0,156.9 L455.1,157.5 L455.1,158.1 L455.2,158.7 L455.2,159.3 L455.3,159.9 L455.4,160.5 L455.5,161.1 L455.5,161.7 L455.5,162.3 L455.4,162.9 L455.4,163.5 L455.4,164.1 L455.4,164.7 L455.4,165.3 L455.5,165.9 L455.5,166.5 L455.5,167.1 L455.6,167.7 L455.6,168.3 L455.6,168.9 L455.7,169.5 L455.7,170.1 L455.7,170.7 L455.8,171.3 L455.9,171.9 L455.9,172.5 L455.9,173.1 L455.9,173.7 L455.8,174.3 L455.8,174.9 L455.9,175.5 L456.0,176.1 L456.0,176.7 L456.0,177.3 L456.0,177.9 L456.0,178.5 L456.0,179.1 L456.1,179.7 L456.2,180.3 L456.3,180.8 L456.4,181.4 L456.3,182.0 L456.3,182.7 L456.3,183.3 L456.4,183.9 L456.5,184.4 L456.6,185.0 L456.7,185.6 L456.8,186.2 L456.8,186.8 L456.8,187.4 L456.8,188.0 L456.7,188.6 L456.5,189.2 L456.4,189.9 L456.5,190.5 L456.6,191.0 L456.7,191.6 L456.9,192.2 L457.0,192.8 L457.0,193.4 L457.1,194.0 L457.2,194.6 L457.1,195.2 L457.0,195.8 L456.9,196.4 L456.9,197.0 L456.8,197.6 L456.8,198.3 L456.8,198.9 L456.9,199.5 L456.9,200.0 L457.0,200.6 L457.0,201.2 L457.0,201.8 L457.0,202.4 L457.0,203.1 L457.0,203.7 L457.0,204.2 L457.1,204.8 L457.1,205.4 L457.3,206.0 L457.4,206.6 L457.5,207.2 L457.6,207.8 L457.7,208.4 L457.7,209.0 L457.8,209.6 L457.9,210.2 L457.9,210.8 L458.0,211.4 L458.1,212.0 L458.1,212.6 L458.0,213.2 L458.0,213.8 L458.0,214.4 L458.0,215.0 L457.9,215.6 L457.9,216.2 L457.9,216.8 L457.9,217.4 L457.8,218.0 L457.9,218.6 L458.1,219.2 L458.3,219.8 L458.5,220.4 L458.5,221.0 L458.4,221.6 L458.3,222.2 L458.2,222.8 L458.2,223.4 L458.2,224.0 L458.3,224.6 L458.3,225.2 L458.3,225.8 L458.4,226.4 L458.4,227.0 L458.5,227.6 L458.7,228.2 L458.8,228.8 L459.0,229.4 L459.0,230.0 L459.1,230.6 L459.1,231.2 L459.1,231.8 L459.0,232.4 L459.0,233.0 L458.9,233.6 L458.8,234.2 L458.9,234.8 L458.9,235.4 L459.0,236.0 L459.1,236.6 L459.2,237.2 L459.2,237.8 L459.3,238.4 L459.4,239.0 L459.4,239.6 L459.4,240.2 L459.5,240.8 L459.6,241.4 L459.7,242.0 L459.8,242.6 L459.7,243.2 L459.5,243.8 L459.4,244.4 L459.3,245.0 L459.3,245.6 L459.4,246.2 L459.5,246.8 L459.5,247.4 L459.5,248.0 L459.5,248.6 L459.5,249.2 L459.6,249.8 L459.7,250.4 L459.7,251.0 L459.8,251.6 L459.9,252.2 L460.0,252.8 L460.1,253.4 L460.2,254.0 L460.1,254.6 L460.1,255.2 L460.1,255.8 L460.2,256.4 L460.4,257.0 L460.5,257.6 L460.7,258.1 L460.6,258.8 L460.6,259.4 L460.5,260.0 L460.6,260.6 L460.7,261.2 L460.8,261.7 L461.0,262.3 L461.0,262.9 L461.0,263.5 L461.0,264.1 L461.0,264.7 L461.0,265.3 L461.0,266.0 L460.9,266.6 L461.0,267.2 L461.1,267.7 L461.2,268.3 L461.4,268.9 L461.4,269.5 L461.3,270.1 L461.3,270.7 L461.3,271.3 L461.4,271.9 L461.5,272.5 L461.6,273.1 L461.7,273.7 L461.9,274.3 L462.0,274.9 L462.1,275.5 L462.2,276.1 L462.2,276.7 L462.3,277.3 L462.4,277.9 L462.5,278.5 L462.6,279.1 L462.7,279.7 L462.7,280.3 L462.6,280.9 L462.6,281.5 L462.5,282.1 L462.5,282.7 L462.6,283.3 L462.6,283.9 L462.6,284.5 L462.8,285.1 L462.9,285.7 L463.1,286.2 L463.2,286.8 L463.2,287.4 L463.2,288.0 L463.2,288.6 L463.2,289.3 L463.2,289.9 L463.2,290.5 L463.2,291.1 L463.3,291.7 L463.5,292.2 L463.7,292.8 L463.7,293.4 L463.7,294.0 L463.7,294.6 L463.6,295.2 L463.7,295.8 L463.8,296.4 L463.8,297.0 L463.9,297.6 L464.1,298.2 L464.2,298.8 L464.3,299.4 L464.4,300.0 L464.4,300.6 L464.5,301.2 L464.5,301.8 L464.6,302.4 L464.8,303.0 L465.0,303.6 L465.1,304.1 L465.1,304.8 L465.1,305.4 L465.0,306.0 L465.0,306.6 L465.1,307.2 L465.1,307.8 L465.1,308.4 L465.2,309.0 L465.4,309.5 L465.6,310.1 L465.7,310.7 L465.8,311.3 L465.9,311.9 L466.0,312.5 L466.1,313.1 L466.1,313.7 L466.2,314.3 L466.3,314.9 L466.3,315.5 L466.4,316.1 L466.4,316.7 L466.4,317.3 L466.5,317.9 L466.5,318.5 L466.6,319.1 L466.6,319.7 L466.5,320.3 L466.5,320.9 L466.5,321.5 L466.6,322.1 L466.7,322.7 L466.8,323.3 L467.0,323.9 L467.0,324.5 L467.1,325.1 L467.1,325.7 L467.2,326.3 L467.3,326.8 L467.4,327.4 L467.5,328.0 L467.6,328.6 L467.7,329.2 L467.7,329.8 L467.8,330.4 L467.8,331.0 L467.8,331.6 L467.9,332.2 L467.9,332.8 L467.9,333.4 L468.0,334.0 L468.0,334.6 L468.2,335.2 L468.4,335.8 L468.6,336.4 L468.8,336.9 L468.8,337.5 L468.9,338.1 L468.9,338.7 L469.0,339.3 L469.1,339.9 L469.1,340.5 L469.2,341.1 L469.3,341.7 L469.4,342.3 L469.4,342.9 L469.5,343.5 L469.8,344.1 L470.1,344.6 L470.4,345.2 L470.6,345.7 L470.7,346.3 L470.8,346.9 L470.9,347.5 L471.1,348.1 L471.2,348.7 L471.4,349.3 L471.5,349.8 L471.8,350.4 L472.0,350.9 L472.3,351.5 L472.5,352.0 L472.6,352.6 L472.7,353.2 L472.8,353.8 L473.0,354.4 L473.1,355.0 L473.3,355.6 L473.5,356.2 L473.8,356.7 L474.1,357.2 L474.5,357.7 L474.8,358.2 L475.0,358.8 L475.2,359.3 L475.4,359.9 L475.7,360.4 L476.0,360.9 L476.4,361.4 L476.7,361.9 L476.9,362.5 L477.1,363.1 L477.4,363.6 L477.6,364.2 L477.9,364.7 L478.2,365.2 L478.5,365.8 L479.0,366.2 L479.4,366.6 L479.9,367.0 L480.3,367.4 L480.7,367.8 L481.2,368.3 L481.6,368.7 L482.0,369.1 L482.3,369.6 L482.7,370.1 L483.1,370.6 L483.4,371.1 L483.7,371.6 L484.0,372.1 L484.4,372.6 L484.7,373.1 L485.0,373.6 L485.3,374.1 L485.6,374.6 L486.0,375.1 L486.4,375.6 L486.8,376.0 L487.1,376.6 L487.4,377.1 L487.7,377.6 L488.0,378.1 L488.4,378.6 L488.7,379.1 L489.1,379.6 L489.6,379.9 L490.2,380.1 L490.8,380.3 L491.4,380.5 L491.8,381.0 L492.2,381.4 L492.6,381.9 L493.0,382.3 L493.5,382.7 L493.9,383.1 L494.4,383.5 L494.7,384.0 L495.0,384.5 L495.3,385.0 L495.6,385.5 L495.8,386.1 L496.1,386.7 L496.3,387.2 L496.7,387.7 L497.1,388.1 L497.6,388.5 L498.0,388.9 L498.5,389.3 L498.9,389.8 L499.3,390.2 L499.7,390.6 L500.1,391.1 L500.4,391.6 L500.8,392.1 L501.1,392.6 L501.4,393.2 L501.7,393.7 L502.0,394.2 L502.3,394.7 L502.8,395.1 L503.2,395.5 L503.7,395.9 L504.0,396.4 L504.4,396.9 L504.7,397.4 L505.1,397.8 L505.6,398.2 L506.0,398.6 L506.5,398.9 L507.0,399.1 L507.6,399.4 L508.2,399.5 L508.7,399.7 L509.3,399.8 L509.9,399.8 L510.5,399.8 L511.1,399.8 L511.7,400.0 L512.3,400.1 L512.9,400.2 L513.6,400.1 L514.1,399.9 L514.7,399.6 L515.2,399.3 L515.7,399.0 L516.2,398.6 L516.7,398.3 L517.3,398.2 L517.9,398.5 L518.3,399.0 L518.7,399.4 L519.1,399.9 L519.5,400.4 L519.9,400.8 L520.5,401.0 L521.1,401.0 L521.7,401.1 L522.3,401.2 L522.9,401.2 L523.5,401.1 L524.1,400.9 L524.7,400.8 L525.3,400.9 L525.9,401.0 L526.5,401.1 L527.1,401.1 L527.7,400.9 L528.2,400.6 L528.8,400.5 L529.3,400.4 L529.8,400.6 L530.3,400.9 L530.9,401.1 L531.5,401.2 L532.1,401.2 L532.7,401.1 L533.3,401.1 L533.9,401.1 L534.5,401.2 L535.1,401.3 L535.7,401.3 L536.3,401.3 L536.9,401.2 L537.5,401.2 L538.1,401.1 L538.7,401.0 L539.3,401.0 L539.9,400.9 L540.5,400.9 L541.1,400.9 L541.7,400.9 L542.4,401.0 L543.0,401.0 L543.6,401.1 L544.2,401.1 L544.8,401.2 L545.4,401.2 L546.0,401.1 L546.6,401.1 L547.2,401.2 L547.8,401.2 L548.4,401.3 L549.0,401.3 L549.6,401.3 L550.2,401.3 L550.8,401.3 L551.4,401.2 L552.0,401.1 L552.6,401.0 L553.2,400.9 L553.8,400.9 L554.4,401.0 L555.0,401.0 L555.6,401.0 L556.2,401.1 L556.8,401.2 L557.4,401.3 L558.0,401.3 L558.6,401.2 L559.2,401.1 L559.8,401.1 L560.4,401.0 L561.0,401.0 L561.6,400.9 L562.2,400.9 L562.8,401.1 L563.4,401.2 L564.0,401.4 L564.6,401.3 L565.2,401.3 L565.8,401.2 L566.4,401.1 L567.0,401.0 L567.6,401.0 L568.2,401.0 L568.8,401.0 L569.4,401.0 L570.0,401.1 L570.6,401.1 L571.2,401.1 L571.8,401.0 L572.4,401.0 L573.0,401.0 L573.6,401.0 L574.2,400.9 L574.8,400.9 L575.4,401.0 L576.0,401.0 L576.6,401.1 L577.2,401.2 L577.8,401.2 L578.4,401.3 L579.0,401.3 L579.6,401.3 L580.2,401.2 L580.8,401.2 L581.4,401.1 L582.0,401.0 L582.6,401.0 L583.2,400.9 L583.8,400.9 L584.4,400.9 L585.0,401.0 L585.6,401.0 L586.2,401.1 L586.8,401.1 L587.4,401.1 L588.0,401.0 L588.6,401.0 L589.2,401.0 L589.8,401.0 L590.4,401.0 L591.0,400.9 L591.5,400.8 L592.1,400.7 L592.7,400.6 L593.3,400.6 L593.9,400.6 L594.5,400.6 L595.1,400.5 L595.7,400.3 L596.3,400.1 L596.9,399.9 L597.4,399.7 L598.0,399.6 L598.6,399.5 L599.2,399.3 L599.8,399.4 L600.4,399.4 L601.1,399.5 L601.7,399.6 L602.2,399.6 L602.8,399.6 L603.4,399.6 L604.0,399.7 L604.6,399.8 L605.2,399.9 L605.8,400.0 L606.4,400.2 L606.9,400.4 L607.5,400.6 L608.1,400.7 L608.6,400.9 L609.2,401.0 L609.8,401.0 L610.4,401.1 L611.0,401.2 L611.6,401.2 L612.2,401.3 L612.8,401.2 L613.4,401.0 L614.0,400.9 L614.6,400.8 L615.2,400.9 L615.8,400.9 L616.4,401.0 L617.0,400.9 L617.6,400.9 L618.2,400.8 L618.8,400.8 L619.4,400.8 L620.0,400.9 L620.6,401.0 L621.2,401.0 L621.8,401.0 L622.4,400.9 L623.0,400.9 L623.6,400.8 L624.2,400.8 L624.8,400.8 L625.4,400.8 L626.0,400.8 L626.6,400.8 L627.2,400.9 L627.8,400.9 L628.4,400.9 L629.0,400.9 L629.6,400.8 L630.2,400.8 L630.8,400.7 L631.4,400.6 L632.0,400.6 L632.6,400.6 L633.2,400.7 L633.8,400.7 L634.4,400.8 L635.0,400.9 L635.6,401.0 L636.2,401.1 L636.8,401.1 L637.4,401.0 L638.0,401.0 L638.6,401.0 L639.2,400.9 L639.8,400.9 L640.4,400.8 L641.0,400.8 L641.6,400.8 L642.2,400.8 L642.8,400.9 L643.4,400.8 L644.0,400.7 L644.6,400.6 L645.2,400.5 L645.8,400.6 L646.4,400.6 L647.0,400.7 L647.6,400.7 L648.2,400.8 L648.8,400.9 L649.4,401.0 L650.0,400.9 L650.6,400.8 L651.2,400.6 L651.8,400.5 L652.4,400.6 L653.0,400.8 L653.6,400.9 L654.3,401.0 L654.9,400.8 L655.5,400.6 L656.0,400.4 L656.6,400.1 L657.1,399.8 L657.7,399.6 L658.2,399.5 L658.8,399.3 L659.4,399.2 L660.0,399.1 L660.6,399.1 L661.2,399.0 L661.8,398.9 L662.4,398.8 L663.0,398.8 L663.6,398.8 L664.2,398.8 L664.8,398.9 L665.4,398.9 L666.0,399.0 L666.6,399.1 L667.2,399.2 L667.8,399.1 L668.4,399.0 L669.0,399.0 L669.6,399.0 L670.2,399.1 L670.8,399.2 L671.4,399.3 L672.0,399.2 L672.6,399.1 L673.2,399.0 L673.8,399.0 L674.4,399.2 L675.0,399.5 L675.5,399.7 L676.1,399.9 L676.7,400.1 L677.2,400.3 L677.8,400.4 L678.4,400.5 L679.0,400.6 L679.6,400.7 L680.2,400.8 L680.8,400.9"/>
</g>
<!-- legend -->
<rect x="552.2" y="14.7" width="112.1" height="102.6" fill="#fff" stroke="#5a5a5a" stroke-width="1"/>
<line x1="554.7" y1="31.8" x2="618.1" y2="31.8" stroke="#000" stroke-width="3.2" stroke-linecap="round"/>
<line x1="554.7" y1="66.3" x2="618.1" y2="66.3" stroke="#ff0000" stroke-width="3.2" stroke-linecap="round"/>
<line x1="554.7" y1="101.1" x2="618.1" y2="101.1" stroke="#0000ff" stroke-width="3.2" stroke-linecap="round"/>
<g filter="url(#bl)">
<text transform="translate(626.7,41.0) scale(0.985,1)" font-size="28">LA</text>
<text transform="translate(626.7,75.8) scale(0.985,1)" font-size="28">LB</text>
<text transform="translate(626.7,110.9) scale(0.985,1)" font-size="28">LC</text>
<!-- ticks -->
<g font-size="36.5" text-anchor="middle">
<text x="103.5" y="485">400</text>
<text x="179.8" y="485">450</text>
<text x="257" y="485">500</text>
<text x="333" y="485">550</text>
<text x="408.3" y="485">600</text>
<text x="484.1" y="485">650</text>
<text x="560.6" y="485">700</text>
<text x="637.2" y="485">750</text>
</g>
<text transform="translate(378.3,533.1) scale(0.9925,1)" font-size="37.3" text-anchor="middle">Wavelength (nm)</text>
<text transform="translate(26.9,236.4) rotate(-90) scale(0.985,1.0)" font-size="37" text-anchor="middle">Intensity (a.u.)</text>
</g>
</svg>
</body>
</html>
